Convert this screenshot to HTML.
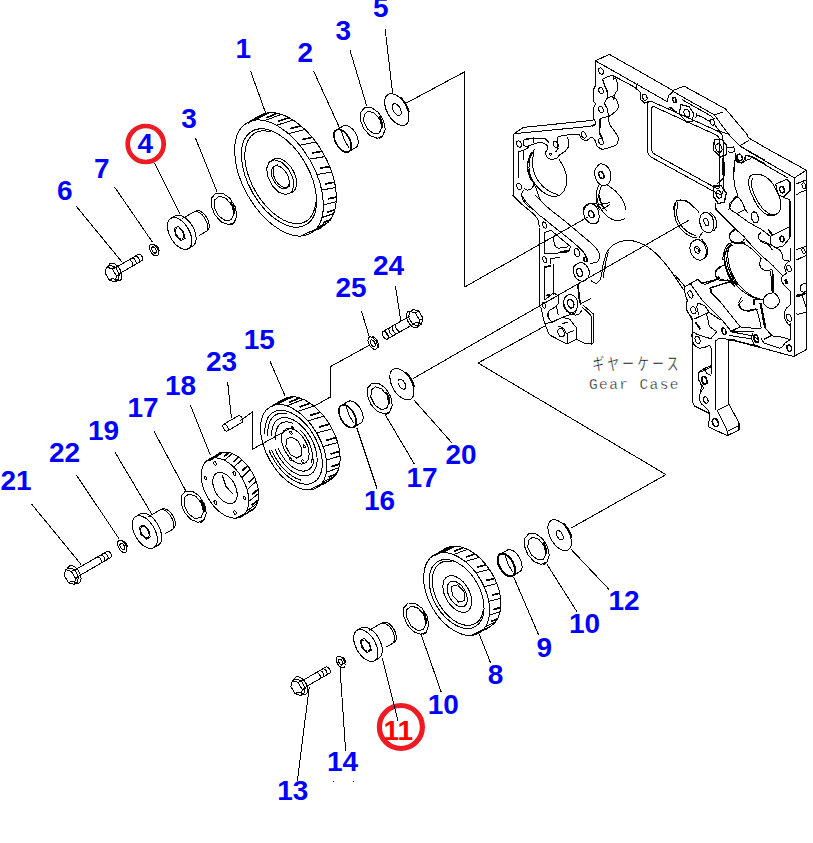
<!DOCTYPE html>
<html lang="ja"><head><meta charset="utf-8"><title>Gear Case</title>
<style>html,body{margin:0;padding:0;background:#fff}svg{display:block}</style></head>
<body>
<svg width="813" height="843" viewBox="0 0 813 843">
<rect width="813" height="843" fill="#fff"/>
<g fill="none" stroke="#000" stroke-width="1" shape-rendering="crispEdges" stroke-linecap="butt" stroke-linejoin="miter">
<line x1="250.4" y1="70.6" x2="265.9" y2="113.7"/>
<line x1="313.7" y1="71.3" x2="340.2" y2="129.2"/>
<line x1="350" y1="50.4" x2="366.8" y2="106.3"/>
<line x1="385.2" y1="29.5" x2="392.6" y2="93.5"/>
<line x1="76.3" y1="206.3" x2="122.3" y2="262.4"/>
<line x1="114.4" y1="186.8" x2="152.6" y2="242.4"/>
<line x1="154.5" y1="163.2" x2="180.3" y2="214.4"/>
<line x1="195.5" y1="138.2" x2="217" y2="191.5"/>
<ellipse cx="396.8" cy="109.6" rx="9.8" ry="17.5" transform="rotate(-30 396.8 109.6)"/>
<ellipse cx="396.8" cy="109.6" rx="3.6" ry="6.5" transform="rotate(-30 396.8 109.6)"/>
<path d="M409.2 112.5 L408.6 110.2 L407.7 107.8 L406.6 105.4 L405.3 103.2 L403.8 101.1 L402.2 99.1 L400.5 97.4" stroke-width="1.5"/>
<path d="M382.8 135.9 L385.2 129.3 L383.5 120.6 L378.4 112.5 L371.4 107.6 L364.8 107.5 L360.7 112.2 L360.4 120.2 L363.9 128.9 L370.2 135.7 L377.3 138.3 Z"/>
<path d="M379.4 133 L381.8 127.5 L379.9 119.6 L374.6 113.2 L368.3 111.1 L364.1 114.5 L363.8 121.6 L367.6 129.2 L373.8 133.7 Z"/>
<path d="M382.4 128 L382.5 126.5 L382.3 124.8 L382 123.1 L381.5 121.4 L380.8 119.7 L379.9 118 L378.8 116.5" stroke-width="1.6"/>
<path d="M379 138.1 L379.7 137.9 L380.4 137.7 L381.1 137.3 L381.7 136.9 L382.3 136.4 L382.8 135.9" stroke-width="1.6"/>
<ellipse cx="342.6" cy="140.7" rx="7" ry="12.5" transform="rotate(-30 342.6 140.7)" stroke-width="1.6"/>
<path d="M355.2 147.8 L356.1 147.3 L356.9 146.6 L357.5 145.7 L357.9 144.6 L358.2 143.4 L358.2 142 L358.1 140.5 L357.9 138.9 L357.4 137.2 L356.8 135.6 L356 134 L355.1 132.4 L354.1 131 L353 129.6 L351.8 128.4 L350.6 127.4 L349.3 126.5 L348.1 125.9 L346.9 125.5 L345.7 125.3 L344.6 125.4 L343.6 125.7 L342.8 126.2"/>
<line x1="348.9" y1="151.5" x2="355.8" y2="147.5"/>
<line x1="336.4" y1="129.9" x2="343.3" y2="125.9"/>
<path d="M341.1 130.7 L344.1 139.4 L348.9 147.6"/>
<ellipse cx="279" cy="178" rx="35.7" ry="63.7" transform="rotate(-30 279 178)"/>
<path d="M319.2 227.6 L323.9 225.6 L328 222.5 L331.3 218.3 L333.8 213.2 L335.5 207.2 L336.3 200.4 L336.2 193.1 L335.2 185.3 L333.3 177.1 L330.6 168.9 L327.1 160.7 L322.9 152.7 L318 145 L312.7 137.9 L306.9 131.4 L300.8 125.7 L294.5 120.9 L288.2 117.2 L282 114.5 L275.9 112.9 L270.2 112.5 L265 113.3 L260.2 115.3 L256.2 118.4"/>
<line x1="309.8" y1="233.8" x2="319.8" y2="227.4"/>
<line x1="316.3" y1="230" x2="323" y2="226.1" stroke-width="1.7"/>
<line x1="317.2" y1="227.5" x2="328.1" y2="222.4"/>
<line x1="323.1" y1="222.8" x2="330.3" y2="219.8" stroke-width="1.7"/>
<line x1="321.8" y1="217.6" x2="333.7" y2="213.6"/>
<line x1="327" y1="212.2" x2="334.9" y2="209.8" stroke-width="1.7"/>
<line x1="323.4" y1="204.8" x2="336.2" y2="201.7"/>
<line x1="327.8" y1="198.9" x2="336.4" y2="197" stroke-width="1.7"/>
<line x1="321.7" y1="190.1" x2="335.6" y2="187.5"/>
<line x1="325.4" y1="183.9" x2="334.6" y2="182.2" stroke-width="1.7"/>
<line x1="316.9" y1="174.5" x2="331.7" y2="172.1"/>
<line x1="319.9" y1="168.2" x2="329.7" y2="166.6" stroke-width="1.7"/>
<line x1="309.3" y1="159.2" x2="325" y2="156.6"/>
<line x1="311.7" y1="153.1" x2="322.1" y2="151.3" stroke-width="1.7"/>
<line x1="299.6" y1="145.2" x2="315.9" y2="142"/>
<line x1="301.6" y1="139.6" x2="312.3" y2="137.4" stroke-width="1.7"/>
<line x1="288.3" y1="133.6" x2="305.1" y2="129.6"/>
<line x1="290.1" y1="128.7" x2="301" y2="125.9" stroke-width="1.7"/>
<line x1="276.4" y1="125.3" x2="293.2" y2="120.1"/>
<line x1="278.1" y1="121.2" x2="289.1" y2="117.6" stroke-width="1.7"/>
<line x1="264.6" y1="120.7" x2="281.4" y2="114.3"/>
<line x1="266.5" y1="117.7" x2="277.3" y2="113.2" stroke-width="1.7"/>
<line x1="253.9" y1="120.4" x2="270.2" y2="112.5"/>
<line x1="256.2" y1="118.3" x2="266.7" y2="112.9" stroke-width="1.7"/>
<line x1="245.1" y1="124.2" x2="260.7" y2="115"/>
<line x1="247.9" y1="123.1" x2="257.9" y2="116.9" stroke-width="1.7"/>
<line x1="301.1" y1="235.9" x2="319.2" y2="227.6"/>
<ellipse cx="279" cy="178" rx="30.2" ry="54" transform="rotate(-30 279 178)"/>
<path d="M270.6 131.9 L265.9 130.9 L261.5 130.9 L257.4 131.9 L253.8 133.7 L250.8 136.4 L248.3 139.8 L246.5 144.1 L245.3 148.9 L244.8 154.4 L245 160.3 L245.9 166.5 L247.5 173 L249.8 179.5 L252.6 186 L256 192.3 L259.9 198.3 L264.2 203.9 L268.8 209 L273.6 213.4 L278.5 217.1 L283.5 220.1 L288.5 222.2 L293.2 223.4 L297.8 223.7 L301.9 223 L305.7 221.5 L308.9 219.1 L311.6 215.9 L313.6 211.9 L315 207.2 L315.7 201.9"/>
<path d="M291.4 192.4 L293.9 186.1 L292.8 177.5 L288.4 168.7 L281.8 162.3 L274.7 159.8 L269.2 162 L266.7 168.3 L267.8 176.9 L272.2 185.7 L278.8 192.1 L285.9 194.6 Z"/>
<path d="M288.4 193.1 L290.2 193 L291.7 192.5 L293.1 191.7 L294.3 190.5 L295.3 189.1 L296 187.4 L296.4 185.4 L296.6 183.3 L296.5 181 L296.1 178.5 L295.5 176.1 L294.6 173.6 L293.4 171.2 L292.1 168.8 L290.5 166.6 L288.8 164.6 L287 162.8 L285.1 161.3 L283.2 160.1 L281.3 159.1 L279.3 158.5 L277.5 158.3 L275.8 158.4 L274.2 158.9 L272.8 159.6 L271.6 160.8 L270.6 162.2"/>
<ellipse cx="280.3" cy="177.2" rx="7.5" ry="12.5" transform="rotate(-30 280.3 177.2)"/>
<path d="M278.4 164.7 L277.2 164.8 L276.2 165.2 L275.3 165.7 L274.5 166.5 L273.9 167.4 L273.4 168.5 L273.1 169.8 L273 171.2 L273.1 172.7 L273.3 174.3 L273.8 175.9 L274.4 177.6 L275.1 179.2 L276 180.7 L277 182.2 L278.1 183.5 L279.3 184.7 L280.6 185.7 L281.8 186.5 L283.1 187.1 L284.4 187.5 L285.6 187.7 L286.7 187.6 L287.8 187.3 L288.7 186.8 L289.5 186 L290.1 185.1"/>
<path d="M234.4 222.3 L236.8 215.5 L235.1 206.5 L229.8 198.2 L222.7 193.2 L215.9 193.1 L211.7 197.9 L211.3 206.1 L215 215.1 L221.4 222.1 L228.7 224.7 Z"/>
<path d="M231.3 219.9 L233.9 213.9 L231.8 205.4 L226.1 198.4 L219.3 196.2 L214.7 199.8 L214.4 207.5 L218.5 215.7 L225.2 220.6 Z"/>
<path d="M234.4 214.5 L234.5 212.8 L234.4 211 L234 209.2 L233.4 207.3 L232.7 205.5 L231.7 203.7 L230.6 202" stroke-width="1.6"/>
<path d="M230.5 224.6 L231.2 224.4 L232 224.1 L232.7 223.8 L233.3 223.3 L233.9 222.8 L234.4 222.3" stroke-width="1.6"/>
<ellipse cx="179.6" cy="233.5" rx="9.8" ry="17.5" transform="rotate(-30 179.6 233.5)"/>
<path d="M191.4 246.7 L192.7 246.1 L193.8 245.3 L194.7 244.1 L195.4 242.7 L195.9 241.1 L196.1 239.2 L196.1 237.2 L195.8 235.1 L195.3 232.8 L194.5 230.6 L193.6 228.3 L192.4 226.1 L191.1 224 L189.6 222 L188 220.3 L186.4 218.7 L184.6 217.4 L182.9 216.3 L181.2 215.6 L179.5 215.2 L178 215.1 L176.5 215.3 L175.2 215.8 L174.1 216.7"/>
<line x1="188.3" y1="248.7" x2="192.7" y2="246.2"/>
<line x1="170.8" y1="218.3" x2="175.2" y2="215.8"/>
<path d="M185 238.4 L183.5 231.3 L178.1 226.4 L174.2 228.6 L175.7 235.7 L181.1 240.6 Z"/>
<ellipse cx="179.6" cy="233.5" rx="3.4" ry="6" transform="rotate(-30 179.6 233.5)"/>
<path d="M205.9 231.4 L206.8 231.1 L207.6 230.6 L208.2 229.9 L208.7 229 L209 228 L209.2 226.9 L209.3 225.6 L209.1 224.2 L208.9 222.8 L208.5 221.4 L207.9 219.9 L207.2 218.5 L206.4 217.1 L205.5 215.8 L204.5 214.6 L203.5 213.5 L202.4 212.5 L201.3 211.8 L200.2 211.2 L199.1 210.8 L198 210.6 L197 210.6 L196.1 210.8 L195.3 211.2 L194.6 211.8"/>
<line x1="199.2" y1="235.5" x2="207" y2="231"/>
<line x1="182.5" y1="218.5" x2="195.5" y2="211"/>
<path d="M206.8 230.3 L207.2 229.2 L207.5 228.1 L207.5 226.8 L207.4 225.4 L207.2 223.9 L206.7 222.4 L206.1 220.9 L205.4 219.4 L204.6 217.9 L203.6 216.6 L202.6 215.3 L201.5 214.2 L200.3 213.3 L199.2 212.5 L198 212 L196.9 211.7 L195.8 211.5 L194.8 211.6"/>
<ellipse cx="154" cy="250" rx="3.7" ry="6.6" transform="rotate(-30 154 250)"/>
<ellipse cx="154" cy="250" rx="1.9" ry="3.4" transform="rotate(-30 154 250)"/>
<path d="M159.1 250.9 L158.9 250 L158.5 249.1 L158.1 248.2 L157.6 247.3 L157.1 246.5 L156.5 245.8 L155.8 245.1" stroke-width="1.5"/>
<path d="M115 281.9 L116.5 276.1 L112.2 268.8 L106.5 267.1 L105.1 272.9 L109.4 280.2 Z"/>
<path d="M112.4 278.5 L118.1 280.1 L119.5 274.4 L115.3 267 L109.6 265.4"/>
<line x1="115" y1="281.9" x2="118.1" y2="280.1"/>
<line x1="116.5" y1="276.1" x2="119.5" y2="274.4"/>
<line x1="112.2" y1="268.8" x2="115.3" y2="267"/>
<line x1="106.5" y1="267.1" x2="109.6" y2="265.4"/>
<line x1="109.4" y1="280.2" x2="112.4" y2="278.5"/>
<path d="M117 280.7 L117.9 280.9 L118.7 280.9 L119.5 280.7 L120.2 280.4 L120.8 279.9 L121.2 279.2 L121.6 278.4 L121.8 277.5 L121.9 276.5 L121.9 275.3 L121.7 274.2 L121.4 272.9 L121 271.7 L120.5 270.5 L119.9 269.3 L119.1 268.1 L118.3 267 L117.5 266.1 L116.6 265.2 L115.6 264.5 L114.7 263.9 L113.7 263.5 L112.8 263.2 L111.9 263.1 L111.1 263.2 L110.4 263.4 L109.8 263.9 L109.2 264.4 L108.8 265.2 L108.5 266"/>
<line x1="117.8" y1="274.6" x2="142" y2="260.6"/>
<line x1="114.2" y1="268.4" x2="138.4" y2="254.4"/>
<path d="M141.7 260.7 L142 260.7 L142.2 260.5 L142.4 260.3 L142.6 260 L142.7 259.7 L142.7 259.3 L142.8 258.9 L142.7 258.5 L142.6 258.1 L142.5 257.6 L142.3 257.2 L142.1 256.7 L141.9 256.3 L141.6 255.9 L141.3 255.5 L140.9 255.1 L140.6 254.9 L140.3 254.6 L139.9 254.4 L139.6 254.3 L139.2 254.2 L138.9 254.2 L138.6 254.3 L138.4 254.4 L138.2 254.6"/>
<path d="M138.8 262.5 L139 262.3 L139.2 262.1 L139.3 261.8 L139.4 261.5 L139.5 261.1 L139.5 260.7 L139.4 260.2 L139.3 259.8 L139.1 259.3 L138.9 258.8 L138.7 258.4 L138.4 258 L138.1 257.6 L137.8 257.2 L137.4 256.9 L137.1 256.6 L136.7 256.4 L136.4 256.2 L136 256.1 L135.7 256.1 L135.4 256.2 L135.2 256.3"/>
<path d="M135.5 264.4 L135.7 264.2 L135.9 264 L136 263.7 L136.1 263.4 L136.2 263 L136.2 262.6 L136.1 262.1 L136 261.7 L135.8 261.2 L135.6 260.7 L135.4 260.3 L135.1 259.9 L134.8 259.5 L134.5 259.1 L134.2 258.8 L133.8 258.5 L133.4 258.3 L133.1 258.1 L132.8 258 L132.4 258 L132.1 258.1 L131.9 258.2"/>
<path d="M132.2 266.3 L132.4 266.1 L132.6 265.9 L132.7 265.6 L132.8 265.3 L132.9 264.9 L132.9 264.5 L132.8 264 L132.7 263.6 L132.6 263.1 L132.4 262.6 L132.1 262.2 L131.8 261.8 L131.5 261.4 L131.2 261 L130.9 260.7 L130.5 260.4 L130.2 260.2 L129.8 260 L129.5 259.9 L129.1 259.9 L128.8 260 L128.6 260.1"/>
<path d="M406.6 102.9 L464.7 71.8 L464.7 287"/>
<line x1="361.3" y1="310.6" x2="369.7" y2="338.2"/>
<line x1="395.4" y1="286" x2="400.8" y2="320.6"/>
<line x1="270" y1="361.2" x2="285" y2="395.8"/>
<line x1="227.6" y1="381.5" x2="231.4" y2="418"/>
<line x1="356.7" y1="427.5" x2="377" y2="488.4"/>
<line x1="385.1" y1="414.5" x2="414.3" y2="464"/>
<line x1="414.3" y1="400.4" x2="452" y2="443"/>
<line x1="31.7" y1="504.2" x2="81.2" y2="564.6"/>
<line x1="76.6" y1="475.3" x2="119.1" y2="538.9"/>
<line x1="115" y1="452.2" x2="151.6" y2="514"/>
<line x1="153.7" y1="430.6" x2="185.4" y2="490.1"/>
<line x1="190.3" y1="404.9" x2="210.3" y2="455"/>
<ellipse cx="401.9" cy="384.2" rx="9.7" ry="17.3" transform="rotate(-30 401.9 384.2)"/>
<ellipse cx="401.9" cy="384.2" rx="3.1" ry="5.5" transform="rotate(-30 401.9 384.2)"/>
<path d="M414.2 387.1 L413.6 384.8 L412.7 382.4 L411.6 380.1 L410.3 377.8 L408.8 375.7 L407.2 373.8 L405.5 372.1" stroke-width="1.5"/>
<path d="M389.9 411.6 L392.3 405 L390.6 396.3 L385.5 388.2 L378.5 383.3 L371.9 383.2 L367.8 387.9 L367.5 395.9 L371 404.6 L377.3 411.4 L384.4 414 Z"/>
<path d="M386.5 408.7 L388.9 403.2 L387 395.3 L381.7 388.9 L375.4 386.8 L371.2 390.2 L370.9 397.3 L374.7 404.9 L380.9 409.4 Z"/>
<path d="M389.5 403.7 L389.6 402.2 L389.4 400.5 L389.1 398.8 L388.6 397.1 L387.9 395.4 L387 393.7 L385.9 392.2" stroke-width="1.6"/>
<path d="M386.1 413.8 L386.8 413.6 L387.5 413.4 L388.2 413 L388.8 412.6 L389.4 412.1 L389.9 411.6" stroke-width="1.6"/>
<ellipse cx="347.5" cy="416.3" rx="7" ry="12.5" transform="rotate(-30 347.5 416.3)" stroke-width="1.6"/>
<path d="M360.1 423.4 L361 422.9 L361.8 422.2 L362.4 421.3 L362.8 420.2 L363.1 419 L363.1 417.6 L363 416.1 L362.8 414.5 L362.3 412.8 L361.7 411.2 L360.9 409.6 L360 408 L359 406.6 L357.9 405.2 L356.7 404 L355.5 403 L354.2 402.1 L353 401.5 L351.8 401.1 L350.6 400.9 L349.5 401 L348.5 401.3 L347.7 401.8"/>
<line x1="353.8" y1="427.1" x2="360.7" y2="423.1"/>
<line x1="341.2" y1="405.5" x2="348.2" y2="401.5"/>
<path d="M346 406.3 L349 415.1 L353.8 423.2"/>
<ellipse cx="293.6" cy="447.2" rx="27.1" ry="46.7" transform="rotate(-30 293.6 447.2)"/>
<path d="M326.9 481.4 L330.4 479.9 L333.5 477.5 L336.1 474.4 L338 470.6 L339.4 466.1 L340 461.1 L340 455.6 L339.4 449.9 L338.1 443.9 L336.1 437.8 L333.6 431.8 L330.5 425.9 L326.9 420.3 L323 415.1 L318.7 410.4 L314.2 406.2 L309.5 402.8 L304.8 400 L300.1 398.1 L295.6 397 L291.3 396.8 L287.3 397.5 L283.7 399 L280.6 401.3"/>
<line x1="316.1" y1="488.1" x2="327.3" y2="481.2"/>
<line x1="322.8" y1="484.2" x2="330.2" y2="480" stroke-width="1.7"/>
<line x1="322.7" y1="482.1" x2="334.6" y2="476.3"/>
<line x1="328.6" y1="477.2" x2="336.5" y2="473.7" stroke-width="1.7"/>
<line x1="326.2" y1="472.4" x2="339" y2="467.6"/>
<line x1="331.3" y1="466.8" x2="339.8" y2="463.8" stroke-width="1.7"/>
<line x1="326.3" y1="460.2" x2="340.1" y2="455.9"/>
<line x1="330.5" y1="454" x2="339.6" y2="451.3" stroke-width="1.7"/>
<line x1="323" y1="446.5" x2="337.7" y2="442.5"/>
<line x1="326.4" y1="440.3" x2="336" y2="437.6" stroke-width="1.7"/>
<line x1="316.6" y1="433" x2="332.1" y2="428.8"/>
<line x1="319.3" y1="427" x2="329.4" y2="424.1" stroke-width="1.7"/>
<line x1="307.9" y1="420.9" x2="323.8" y2="416.1"/>
<line x1="310" y1="415.5" x2="320.5" y2="412.2" stroke-width="1.7"/>
<line x1="297.6" y1="411.5" x2="313.9" y2="406"/>
<line x1="299.6" y1="407" x2="310.2" y2="403.2" stroke-width="1.7"/>
<line x1="286.9" y1="405.9" x2="303.2" y2="399.3"/>
<line x1="288.9" y1="402.5" x2="299.5" y2="397.9" stroke-width="1.7"/>
<line x1="276.9" y1="404.6" x2="292.9" y2="396.8"/>
<line x1="279.3" y1="402.3" x2="289.6" y2="397" stroke-width="1.7"/>
<line x1="268.7" y1="407.8" x2="284.1" y2="398.8"/>
<line x1="271.6" y1="406.6" x2="281.5" y2="400.5" stroke-width="1.7"/>
<line x1="309.6" y1="489.8" x2="326.9" y2="481.4"/>
<path d="M269 450.1 L271.3 455.3 L274.1 460.3 L277.3 465.1 L280.8 469.5 L284.5 473.5 L288.5 476.9 L292.5 479.7 L296.6 481.9 L300.6 483.4 L304.5 484.1 L308.2 484.1 L311.5 483.3 L314.5 481.9 L317.1 479.7 L319.2 476.9 L320.8 473.4 L321.8 469.5 L322.3 465 L322.2 460.3 L321.5 455.2 L320.2 450 L318.4 444.8 L316.1 439.6 L313.4 434.5 L310.3 429.7 L306.8 425.3 L303 421.3 L299.1 417.8 L295 414.9 L291 412.7 L286.9 411.2 L283.1 410.3 L279.4 410.3 L276 411 L273 412.4 L270.3 414.5 L268.2 417.2 L266.6 420.6 L265.5 424.5 L264.9 428.9 L265 433.7"/>
<path d="M287.3 413.8 L283.8 413.2 L280.4 413.3 L277.4 414 L274.6 415.5 L272.3 417.5 L270.5 420.2 L269.1 423.4 L268.2 427.1 L267.8 431.2 L268 435.7"/>
<path d="M271.5 449.6 L273.7 454.4 L276.3 459 L279.2 463.4 L282.4 467.5 L285.9 471.1 L289.6 474.2 L293.3 476.8 L297.1 478.8 L300.8 480.1"/>
<path d="M275 449 L276.8 453.1 L279 457.1 L281.6 460.8 L284.3 464.3 L287.3 467.5 L290.4 470.2 L293.6 472.4 L296.9 474.1 L300 475.3 L303.1 475.9 L306 475.8 L308.6 475.3 L311 474.1 L313 472.4 L314.7 470.1 L315.9 467.4 L316.8 464.3 L317.1 460.8 L317 457 L316.5 453.1 L315.5 448.9 L314.1 444.8 L312.3 440.7 L310.1 436.7 L307.6 432.9 L304.9 429.4 L301.9 426.2 L298.8 423.5 L295.6 421.2 L292.4 419.4 L289.2 418.2 L286.1 417.6 L283.2 417.5 L280.6 418.1 L278.2 419.2 L276.1 420.8 L274.4 423 L273.1 425.7 L272.2 428.8 L271.8 432.2 L271.9 436"/>
<path d="M293.3 423.5 L290.4 422.4 L287.7 421.9 L285.1 421.9 L282.7 422.4 L280.7 423.5 L278.9 425.2 L277.5 427.3 L276.5 429.8 L275.9 432.7 L275.8 436 L276 439.5"/>
<path d="M278.3 448 L279.8 451.4 L281.6 454.7 L283.7 457.9 L285.9 460.9 L288.4 463.5 L291 465.8 L293.7 467.8 L296.3 469.3 L299 470.4 L301.6 471 L304 471.1 L306.3 470.7 L308.3 469.9 L310.1 468.6 L311.6 466.8 L312.7 464.7 L313.5 462.1 L314 459.3"/>
<path d="M310.7 463.4 L311.6 461.2 L312.2 458.7 L312.3 456 L312.2 453 L311.6 449.9 L310.8 446.8 L309.6 443.6 L308.1 440.5 L306.3 437.5 L304.3 434.6 L302.1 432.1 L299.8 429.8"/>
<ellipse cx="295.3" cy="446.2" rx="11.3" ry="19.5" transform="rotate(-30 295.3 446.2)"/>
<ellipse cx="291" cy="432.6" rx="1" ry="1.6" transform="rotate(-30 291 432.6)"/>
<ellipse cx="304.3" cy="446.4" rx="1" ry="1.6" transform="rotate(-30 304.3 446.4)"/>
<ellipse cx="302.9" cy="461.3" rx="1" ry="1.6" transform="rotate(-30 302.9 461.3)"/>
<ellipse cx="290.6" cy="458.9" rx="1" ry="1.6" transform="rotate(-30 290.6 458.9)"/>
<ellipse cx="292.3" cy="427.7" rx="0.8" ry="1.5" transform="rotate(-30 292.3 427.7)" fill="#000"/>
<path d="M301.4 455.6 L301.9 448.5 L297.7 440.7 L291.3 437 L286.4 439.4 L285.9 446.5 L290.1 454.3 L296.5 458 Z"/>
<ellipse cx="225" cy="488" rx="19.8" ry="33" transform="rotate(-30 225 488)"/>
<path d="M248.9 511.9 L251.5 510.8 L253.8 509.1 L255.6 506.8 L257.1 504.1 L258.1 500.9 L258.7 497.3 L258.7 493.4 L258.3 489.3 L257.4 485.1 L256.1 480.8 L254.3 476.5 L252.1 472.4 L249.6 468.4 L246.8 464.7 L243.7 461.4 L240.5 458.5 L237.1 456.1 L233.8 454.2 L230.4 452.9 L227.1 452.1 L224 452 L221.1 452.5 L218.5 453.6 L216.2 455.3"/>
<line x1="240.9" y1="516.9" x2="252.3" y2="510.3"/>
<line x1="247.2" y1="512.9" x2="254.5" y2="508.4" stroke-width="1.7"/>
<line x1="246.6" y1="511" x2="257.3" y2="503.5"/>
<line x1="251.5" y1="505.3" x2="258.3" y2="500.2" stroke-width="1.7"/>
<line x1="248.8" y1="501.4" x2="258.7" y2="493.3"/>
<line x1="252" y1="494.6" x2="258.3" y2="489.2" stroke-width="1.7"/>
<line x1="247.1" y1="489.7" x2="256.2" y2="481.3"/>
<line x1="248.8" y1="482.4" x2="254.5" y2="477" stroke-width="1.7"/>
<line x1="241.9" y1="477.6" x2="250.3" y2="469.4"/>
<line x1="242.2" y1="470.9" x2="247.6" y2="465.7" stroke-width="1.7"/>
<line x1="233.9" y1="467.2" x2="241.9" y2="459.6"/>
<line x1="233.4" y1="461.8" x2="238.6" y2="457" stroke-width="1.7"/>
<line x1="224.4" y1="460.2" x2="232.3" y2="453.6"/>
<line x1="223.8" y1="456.6" x2="229" y2="452.5" stroke-width="1.7"/>
<line x1="215.1" y1="457.8" x2="223.2" y2="452.1"/>
<line x1="215" y1="456.2" x2="220.4" y2="452.8" stroke-width="1.7"/>
<line x1="207.3" y1="460.2" x2="216" y2="455.6"/>
<line x1="208.4" y1="460.6" x2="214.1" y2="457.9" stroke-width="1.7"/>
<line x1="236.1" y1="518.2" x2="248.9" y2="511.9"/>
<ellipse cx="225" cy="488" rx="10.2" ry="17" transform="rotate(-30 225 488)"/>
<path d="M222.2 475 L226 486.5 L233.2 494.3"/>
<ellipse cx="244.5" cy="498" rx="1.2" ry="2" transform="rotate(-30 244.5 498)"/>
<ellipse cx="234.5" cy="473.4" rx="1.2" ry="2" transform="rotate(-30 234.5 473.4)"/>
<ellipse cx="215" cy="463.4" rx="1.2" ry="2" transform="rotate(-30 215 463.4)"/>
<ellipse cx="205.5" cy="478" rx="1.2" ry="2" transform="rotate(-30 205.5 478)"/>
<ellipse cx="215.5" cy="502.6" rx="1.2" ry="2" transform="rotate(-30 215.5 502.6)"/>
<ellipse cx="235" cy="512.6" rx="1.2" ry="2" transform="rotate(-30 235 512.6)"/>
<path d="M203.9 519.9 L206.3 513.2 L204.6 504.3 L199.4 496.1 L192.3 491.2 L185.6 491 L181.4 495.8 L181.1 503.9 L184.7 512.8 L191.1 519.7 L198.2 522.3 Z"/>
<path d="M200.9 517.7 L203.5 511.7 L201.4 503.2 L195.7 496.2 L188.9 494 L184.3 497.6 L184 505.3 L188.1 513.5 L194.8 518.4 Z"/>
<path d="M204 512.3 L204.1 510.6 L204 508.8 L203.6 507 L203 505.1 L202.3 503.3 L201.3 501.5 L200.2 499.8" stroke-width="1.6"/>
<path d="M200 522.2 L200.8 522 L201.5 521.7 L202.2 521.4 L202.8 521 L203.4 520.5 L203.9 519.9" stroke-width="1.6"/>
<ellipse cx="144.8" cy="532.1" rx="10.1" ry="18" transform="rotate(-30 144.8 532.1)"/>
<path d="M156.8 545.7 L158.2 545.2 L159.3 544.3 L160.2 543.1 L161 541.7 L161.4 540 L161.6 538.1 L161.6 536 L161.3 533.8 L160.8 531.5 L160 529.1 L159 526.8 L157.9 524.6 L156.5 522.4 L155 520.4 L153.3 518.5 L151.6 516.9 L149.9 515.6 L148.1 514.5 L146.3 513.8 L144.6 513.3 L143 513.2 L141.5 513.4 L140.2 514 L139 514.9"/>
<line x1="153.8" y1="547.7" x2="158.1" y2="545.2"/>
<line x1="135.8" y1="516.5" x2="140.1" y2="514"/>
<path d="M150.2 537 L148.7 529.9 L143.3 525 L139.4 527.2 L140.9 534.3 L146.3 539.2 Z"/>
<ellipse cx="144.8" cy="532.1" rx="3.4" ry="6" transform="rotate(-30 144.8 532.1)"/>
<path d="M172 529.5 L172.9 529.2 L173.6 528.7 L174.2 528 L174.7 527.1 L175.1 526.1 L175.3 525 L175.3 523.7 L175.2 522.3 L174.9 520.9 L174.5 519.5 L174 518 L173.3 516.6 L172.5 515.2 L171.6 513.9 L170.6 512.7 L169.5 511.6 L168.4 510.6 L167.3 509.9 L166.2 509.3 L165.1 508.9 L164.1 508.7 L163.1 508.7 L162.2 508.9 L161.4 509.3 L160.7 509.9"/>
<line x1="164.9" y1="533.8" x2="173.1" y2="529.1"/>
<line x1="147.9" y1="517" x2="161.6" y2="509.1"/>
<path d="M172.9 528.4 L173.3 527.3 L173.5 526.2 L173.6 524.9 L173.5 523.5 L173.2 522 L172.8 520.5 L172.2 519 L171.5 517.5 L170.6 516 L169.7 514.7 L168.6 513.4 L167.5 512.3 L166.4 511.4 L165.2 510.6 L164.1 510.1 L162.9 509.8 L161.9 509.6 L160.9 509.7"/>
<ellipse cx="122.3" cy="546.4" rx="3.8" ry="6.8" transform="rotate(-30 122.3 546.4)"/>
<ellipse cx="122.3" cy="546.4" rx="1.9" ry="3.4" transform="rotate(-30 122.3 546.4)"/>
<path d="M127.5 547.3 L127.3 546.4 L127 545.5 L126.5 544.5 L126 543.7 L125.5 542.8 L124.8 542.1 L124.1 541.4" stroke-width="1.5"/>
<path d="M74.2 584.4 L75.6 578.6 L71.3 571.3 L65.7 569.6 L64.2 575.4 L68.5 582.7 Z"/>
<path d="M71.5 581 L77.2 582.6 L78.6 576.9 L74.4 569.5 L68.7 567.9"/>
<line x1="74.2" y1="584.4" x2="77.2" y2="582.6"/>
<line x1="75.6" y1="578.6" x2="78.6" y2="576.9"/>
<line x1="71.3" y1="571.3" x2="74.4" y2="569.5"/>
<line x1="65.7" y1="569.6" x2="68.7" y2="567.9"/>
<line x1="68.5" y1="582.7" x2="71.5" y2="581"/>
<path d="M76.1 583.2 L77 583.4 L77.8 583.4 L78.6 583.2 L79.3 582.9 L79.9 582.4 L80.3 581.7 L80.7 580.9 L80.9 580 L81 579 L81 577.8 L80.8 576.7 L80.5 575.4 L80.1 574.2 L79.6 573 L79 571.8 L78.2 570.6 L77.4 569.5 L76.6 568.6 L75.7 567.7 L74.7 567 L73.8 566.4 L72.8 566 L71.9 565.7 L71 565.6 L70.2 565.7 L69.5 565.9 L68.9 566.4 L68.3 566.9 L67.9 567.7 L67.6 568.5"/>
<line x1="76.9" y1="577.1" x2="110.7" y2="557.6"/>
<line x1="73.3" y1="570.9" x2="107.1" y2="551.4"/>
<path d="M110.3 557.7 L110.6 557.7 L110.8 557.5 L111 557.3 L111.2 557 L111.3 556.7 L111.4 556.3 L111.4 555.9 L111.3 555.5 L111.3 555.1 L111.1 554.6 L111 554.2 L110.7 553.7 L110.5 553.3 L110.2 552.9 L109.9 552.5 L109.6 552.1 L109.2 551.9 L108.9 551.6 L108.5 551.4 L108.2 551.3 L107.9 551.2 L107.5 551.2 L107.3 551.3 L107 551.4 L106.8 551.6"/>
<path d="M107.4 559.5 L107.6 559.3 L107.8 559.1 L107.9 558.8 L108 558.5 L108.1 558.1 L108.1 557.7 L108 557.2 L107.9 556.8 L107.8 556.3 L107.6 555.8 L107.3 555.4 L107.1 555 L106.7 554.6 L106.4 554.2 L106.1 553.9 L105.7 553.6 L105.4 553.4 L105 553.2 L104.7 553.1 L104.3 553.1 L104 553.2 L103.8 553.3"/>
<path d="M104.1 561.4 L104.3 561.2 L104.5 561 L104.7 560.7 L104.7 560.4 L104.8 560 L104.8 559.6 L104.7 559.1 L104.6 558.7 L104.5 558.2 L104.3 557.7 L104 557.3 L103.8 556.9 L103.5 556.5 L103.1 556.1 L102.8 555.8 L102.4 555.5 L102.1 555.3 L101.7 555.1 L101.4 555 L101.1 555 L100.8 555.1 L100.5 555.2"/>
<path d="M100.8 563.3 L101 563.1 L101.2 562.9 L101.4 562.6 L101.5 562.3 L101.5 561.9 L101.5 561.5 L101.4 561 L101.3 560.6 L101.2 560.1 L101 559.6 L100.7 559.2 L100.5 558.8 L100.2 558.4 L99.8 558 L99.5 557.7 L99.1 557.4 L98.8 557.2 L98.4 557 L98.1 556.9 L97.8 556.9 L97.5 557 L97.2 557.1"/>
<path d="M418.1 325.9 L419.6 320.3 L415.4 313.1 L409.9 311.5 L408.4 317.1 L412.6 324.3 Z"/>
<path d="M416.1 322.3 L421.6 323.9 L423 318.3 L418.9 311.1 L413.3 309.5"/>
<line x1="418.1" y1="325.9" x2="421.6" y2="323.9"/>
<line x1="419.6" y1="320.3" x2="423" y2="318.3"/>
<line x1="415.4" y1="313.1" x2="418.9" y2="311.1"/>
<line x1="409.9" y1="311.5" x2="413.3" y2="309.5"/>
<line x1="412.6" y1="324.3" x2="416.1" y2="322.3"/>
<path d="M411 311.3 L410.1 311.2 L409.3 311.2 L408.6 311.3 L408 311.6 L407.4 312.1 L407 312.7 L406.7 313.5 L406.4 314.3 L406.3 315.3 L406.4 316.3 L406.5 317.4 L406.8 318.6 L407.2 319.7 L407.7 320.9 L408.3 322 L409 323.1 L409.7 324.1 L410.5 325 L411.4 325.8 L412.2 326.5 L413.1 327 L414 327.4 L414.9 327.7 L415.7 327.8 L416.4 327.7 L417.1 327.4 L417.7 327 L418.2 326.5 L418.6 325.8 L418.9 325"/>
<line x1="414.5" y1="323.5" x2="387.6" y2="339"/>
<line x1="410.1" y1="315.9" x2="383.2" y2="331.4"/>
<ellipse cx="385.4" cy="335.2" rx="2.5" ry="4.4" transform="rotate(-30 385.4 335.2)"/>
<path d="M386.5 329.5 L386.2 329.7 L386 330 L385.8 330.3 L385.7 330.8 L385.7 331.2 L385.7 331.7 L385.7 332.3 L385.9 332.8 L386 333.4 L386.3 334 L386.6 334.5 L386.9 335.1 L387.3 335.6 L387.7 336 L388.1 336.4 L388.5 336.7 L389 337 L389.4 337.2 L389.8 337.3 L390.2 337.3 L390.6 337.2 L390.9 337.1"/>
<path d="M389.8 327.6 L389.5 327.8 L389.3 328.1 L389.1 328.4 L389 328.9 L388.9 329.3 L388.9 329.8 L389 330.4 L389.1 330.9 L389.3 331.5 L389.6 332.1 L389.9 332.6 L390.2 333.2 L390.6 333.7 L391 334.1 L391.4 334.5 L391.8 334.8 L392.3 335.1 L392.7 335.3 L393.1 335.4 L393.5 335.4 L393.9 335.3 L394.2 335.2"/>
<path d="M393.1 325.7 L392.8 325.9 L392.6 326.2 L392.4 326.5 L392.3 327 L392.2 327.4 L392.2 327.9 L392.3 328.5 L392.4 329 L392.6 329.6 L392.9 330.2 L393.2 330.7 L393.5 331.3 L393.9 331.8 L394.3 332.2 L394.7 332.6 L395.1 332.9 L395.6 333.2 L396 333.4 L396.4 333.5 L396.8 333.5 L397.2 333.4 L397.5 333.3"/>
<path d="M396.4 323.8 L396.1 324 L395.9 324.3 L395.7 324.6 L395.6 325.1 L395.5 325.5 L395.5 326 L395.6 326.6 L395.7 327.1 L395.9 327.7 L396.2 328.3 L396.5 328.8 L396.8 329.4 L397.2 329.9 L397.6 330.3 L398 330.7 L398.4 331 L398.8 331.3 L399.3 331.5 L399.7 331.6 L400.1 331.6 L400.5 331.5 L400.8 331.4"/>
<ellipse cx="372.7" cy="343.2" rx="3.8" ry="6.8" transform="rotate(-30 372.7 343.2)"/>
<ellipse cx="372.7" cy="343.2" rx="2" ry="3.6" transform="rotate(-30 372.7 343.2)"/>
<path d="M378.1 347.5 L378.3 346.9 L378.4 346.2 L378.5 345.4 L378.4 344.6 L378.3 343.8 L378 342.9 L377.7 342 L377.3 341.1 L376.8 340.3 L376.2 339.5 L375.6 338.7 L375 338.1 L374.3 337.5 L373.6 337.1 L373 336.7 L372.3 336.5 L371.7 336.4"/>
<ellipse cx="225.5" cy="427.6" rx="2.1" ry="3.8" transform="rotate(-30 225.5 427.6)"/>
<line x1="227.4" y1="430.9" x2="242.1" y2="422.4"/>
<line x1="223.6" y1="424.3" x2="238.3" y2="415.8"/>
<path d="M242.1 422.4 L242.4 422.2 L242.6 422 L242.7 421.7 L242.8 421.3 L242.9 420.9 L242.9 420.5 L242.8 420 L242.7 419.5 L242.5 419 L242.3 418.5 L242.1 418 L241.8 417.6 L241.5 417.2 L241.1 416.8 L240.7 416.4 L240.4 416.1 L240 415.9 L239.6 415.8 L239.3 415.7 L238.9 415.6 L238.6 415.7 L238.3 415.8"/>
<path d="M369.7 345 L330.4 366.6 L330.4 397 L313.4 406.7"/>
<path d="M240.3 420.7 L252.5 411.8 L252.5 449.2 L291.7 427.5"/>
<line x1="479.3" y1="634.5" x2="490.7" y2="663.2"/>
<line x1="513.7" y1="577.1" x2="538.8" y2="635.3"/>
<line x1="547" y1="564.4" x2="577.3" y2="612.3"/>
<line x1="570.5" y1="548.7" x2="608.9" y2="589.3"/>
<line x1="309.2" y1="687.3" x2="297.4" y2="780.8"/>
<line x1="340" y1="667.7" x2="345.6" y2="750.6"/>
<line x1="421.1" y1="634.4" x2="441.3" y2="692.3"/>
<ellipse cx="559.7" cy="535.2" rx="9.5" ry="17" transform="rotate(-30 559.7 535.2)"/>
<ellipse cx="559.7" cy="535.2" rx="2.8" ry="5" transform="rotate(-30 559.7 535.2)"/>
<path d="M571.8 538 L571.2 535.7 L570.3 533.4 L569.2 531.2 L568 529 L566.5 526.9 L565 525 L563.3 523.3" stroke-width="1.5"/>
<path d="M546.9 562 L549.3 555.4 L547.6 546.7 L542.5 538.6 L535.5 533.7 L528.9 533.6 L524.8 538.3 L524.5 546.3 L528 555 L534.3 561.8 L541.4 564.4 Z"/>
<path d="M543.5 559.1 L545.9 553.6 L544 545.7 L538.7 539.3 L532.4 537.2 L528.2 540.6 L527.9 547.7 L531.7 555.3 L537.9 559.8 Z"/>
<path d="M546.5 554.1 L546.6 552.6 L546.4 550.9 L546.1 549.2 L545.6 547.5 L544.9 545.8 L544 544.1 L542.9 542.6" stroke-width="1.6"/>
<path d="M543.1 564.2 L543.8 564 L544.5 563.8 L545.2 563.4 L545.8 563 L546.4 562.5 L546.9 562" stroke-width="1.6"/>
<ellipse cx="506.4" cy="565" rx="7" ry="12.5" transform="rotate(-30 506.4 565)" stroke-width="2"/>
<path d="M519 572.1 L519.9 571.6 L520.7 570.9 L521.3 570 L521.7 568.9 L522 567.7 L522 566.3 L521.9 564.8 L521.7 563.2 L521.2 561.5 L520.6 559.9 L519.8 558.3 L518.9 556.7 L517.9 555.3 L516.8 553.9 L515.6 552.7 L514.4 551.7 L513.1 550.8 L511.9 550.2 L510.7 549.8 L509.5 549.6 L508.4 549.7 L507.4 550 L506.6 550.5"/>
<line x1="512.6" y1="575.8" x2="519.6" y2="571.8"/>
<line x1="500.1" y1="554.2" x2="507.1" y2="550.2"/>
<path d="M504.9 555 L507.9 563.8 L512.6 571.9"/>
<ellipse cx="456.6" cy="594" rx="27.9" ry="45" transform="rotate(-30 456.6 594)"/>
<path d="M486.8 628 L490.4 626.4 L493.6 624 L496.3 620.9 L498.4 617.1 L499.9 612.7 L500.7 607.8 L500.9 602.4 L500.3 596.8 L499.2 591 L497.4 585.1 L495 579.2 L492 573.5 L488.6 568.2 L484.7 563.2 L480.5 558.6 L476.1 554.7 L471.4 551.5 L466.7 548.9 L462.1 547.2 L457.5 546.3 L453.1 546.2 L449.1 546.9 L445.4 548.5 L442.2 550.8"/>
<line x1="478.2" y1="633.4" x2="487.2" y2="627.9"/>
<line x1="484.5" y1="629.8" x2="490.5" y2="626.4" stroke-width="1.7"/>
<line x1="485.6" y1="626.5" x2="495.4" y2="622.1"/>
<line x1="491" y1="621.6" x2="497.5" y2="618.9" stroke-width="1.7"/>
<line x1="489.3" y1="615.3" x2="500.1" y2="611.8"/>
<line x1="493.5" y1="609.5" x2="500.7" y2="607.4" stroke-width="1.7"/>
<line x1="488.8" y1="601.4" x2="500.6" y2="598.4"/>
<line x1="491.9" y1="595.2" x2="499.7" y2="593.3" stroke-width="1.7"/>
<line x1="484.1" y1="586.6" x2="496.8" y2="583.6"/>
<line x1="486.2" y1="580.4" x2="494.6" y2="578.5" stroke-width="1.7"/>
<line x1="475.9" y1="572.7" x2="489.4" y2="569.3"/>
<line x1="477.2" y1="567.1" x2="486.1" y2="564.8" stroke-width="1.7"/>
<line x1="465.2" y1="561.5" x2="479.2" y2="557.4"/>
<line x1="466" y1="556.9" x2="475.2" y2="554" stroke-width="1.7"/>
<line x1="453.4" y1="554.6" x2="467.5" y2="549.3"/>
<line x1="454.2" y1="551.3" x2="463.3" y2="547.6" stroke-width="1.7"/>
<line x1="442" y1="552.7" x2="455.9" y2="546.1"/>
<line x1="443.2" y1="550.8" x2="452.1" y2="546.3" stroke-width="1.7"/>
<line x1="432.5" y1="556.1" x2="445.8" y2="548.3"/>
<line x1="434.4" y1="555.6" x2="442.9" y2="550.3" stroke-width="1.7"/>
<line x1="471.6" y1="635.3" x2="486.8" y2="628"/>
<ellipse cx="456.6" cy="594" rx="23.2" ry="37.5" transform="rotate(-30 456.6 594)"/>
<path d="M452.1 561.6 L448.7 561.1 L445.4 561.2 L442.4 562 L439.7 563.4 L437.3 565.4 L435.4 567.9 L433.9 570.9 L432.8 574.4 L432.3 578.3 L432.3 582.4 L432.8 586.8 L433.7 591.3 L435.2 595.8 L437.1 600.3 L439.4 604.6 L442.1 608.7 L445.1 612.5 L448.3 616 L451.8 618.9 L455.3 621.4 L458.9 623.3 L462.5 624.6 L466 625.3 L469.4 625.4 L472.5 624.8 L475.3 623.6 L477.8 621.8 L479.9 619.5 L481.5 616.6 L482.7 613.2 L483.4 609.5"/>
<ellipse cx="457.3" cy="594" rx="12" ry="20" transform="rotate(-30 457.3 594)"/>
<ellipse cx="457.3" cy="594" rx="8.4" ry="14" transform="rotate(-30 457.3 594)"/>
<path d="M464.6 600.6 L464.2 592 L457.7 584.9 L451.7 586.4 L452.2 595 L458.7 602.1 Z"/>
<path d="M426.4 631.9 L428.8 625.2 L427.1 616.3 L421.9 608.1 L414.8 603.2 L408.1 603 L403.9 607.8 L403.6 615.9 L407.2 624.8 L413.6 631.7 L420.7 634.3 Z"/>
<path d="M423.4 629.7 L426 623.7 L423.9 615.2 L418.2 608.2 L411.4 606 L406.8 609.6 L406.5 617.3 L410.6 625.5 L417.3 630.4 Z"/>
<path d="M426.5 624.3 L426.6 622.6 L426.5 620.8 L426.1 619 L425.5 617.1 L424.8 615.3 L423.8 613.5 L422.7 611.8" stroke-width="1.6"/>
<path d="M422.5 634.2 L423.3 634 L424 633.7 L424.6 633.4 L425.3 633 L425.9 632.5 L426.4 631.9" stroke-width="1.6"/>
<ellipse cx="365.8" cy="645.5" rx="9.8" ry="17.5" transform="rotate(-30 365.8 645.5)"/>
<path d="M377.6 658.7 L378.9 658.1 L380 657.3 L380.9 656.1 L381.6 654.7 L382.1 653.1 L382.3 651.2 L382.3 649.2 L382 647.1 L381.5 644.8 L380.7 642.6 L379.8 640.3 L378.6 638.1 L377.3 636 L375.8 634 L374.2 632.3 L372.6 630.7 L370.8 629.4 L369.1 628.3 L367.4 627.6 L365.7 627.2 L364.2 627.1 L362.7 627.3 L361.4 627.8 L360.3 628.7"/>
<line x1="374.6" y1="660.7" x2="378.9" y2="658.2"/>
<line x1="357.1" y1="630.3" x2="361.4" y2="627.8"/>
<path d="M371.2 650.4 L369.7 643.3 L364.3 638.4 L360.4 640.6 L361.9 647.7 L367.3 652.6 Z"/>
<ellipse cx="365.8" cy="645.5" rx="3.4" ry="6" transform="rotate(-30 365.8 645.5)"/>
<path d="M393 642.9 L393.9 642.6 L394.6 642.1 L395.2 641.4 L395.7 640.5 L396.1 639.5 L396.3 638.4 L396.3 637.1 L396.2 635.7 L395.9 634.3 L395.5 632.9 L395 631.4 L394.3 630 L393.5 628.6 L392.6 627.3 L391.6 626.1 L390.5 625 L389.4 624 L388.3 623.3 L387.2 622.7 L386.1 622.3 L385.1 622.1 L384.1 622.1 L383.2 622.3 L382.4 622.7 L381.7 623.3"/>
<line x1="385.9" y1="647.2" x2="394.1" y2="642.5"/>
<line x1="368.9" y1="630.4" x2="382.6" y2="622.5"/>
<path d="M393.9 641.8 L394.3 640.7 L394.5 639.6 L394.6 638.3 L394.5 636.9 L394.2 635.4 L393.8 633.9 L393.2 632.4 L392.5 630.9 L391.6 629.4 L390.7 628.1 L389.6 626.8 L388.5 625.7 L387.4 624.8 L386.2 624 L385.1 623.5 L383.9 623.2 L382.9 623 L381.9 623.1"/>
<ellipse cx="340.7" cy="662" rx="3.6" ry="6.4" transform="rotate(-30 340.7 662)"/>
<ellipse cx="340.7" cy="662" rx="1.8" ry="3.2" transform="rotate(-30 340.7 662)"/>
<path d="M345.7 662.8 L345.5 662 L345.1 661.1 L344.7 660.2 L344.2 659.4 L343.7 658.6 L343.1 657.9 L342.5 657.3" stroke-width="1.5"/>
<path d="M300.9 695.5 L302.3 689.7 L298 682.4 L292.4 680.7 L290.9 686.5 L295.2 693.8 Z"/>
<path d="M298.2 692.1 L303.9 693.7 L305.3 688 L301.1 680.6 L295.4 679"/>
<line x1="300.9" y1="695.5" x2="303.9" y2="693.7"/>
<line x1="302.3" y1="689.7" x2="305.3" y2="688"/>
<line x1="298" y1="682.4" x2="301.1" y2="680.6"/>
<line x1="292.4" y1="680.7" x2="295.4" y2="679"/>
<line x1="295.2" y1="693.8" x2="298.2" y2="692.1"/>
<path d="M302.8 694.3 L303.7 694.5 L304.5 694.5 L305.3 694.3 L306 694 L306.6 693.5 L307 692.8 L307.4 692 L307.6 691.1 L307.7 690.1 L307.7 688.9 L307.5 687.8 L307.2 686.5 L306.8 685.3 L306.3 684.1 L305.7 682.9 L304.9 681.7 L304.1 680.6 L303.3 679.7 L302.4 678.8 L301.4 678.1 L300.5 677.5 L299.5 677.1 L298.6 676.8 L297.7 676.7 L296.9 676.8 L296.2 677 L295.6 677.5 L295 678 L294.6 678.8 L294.3 679.6"/>
<line x1="303.6" y1="688.2" x2="329.6" y2="673.2"/>
<line x1="300" y1="682" x2="326" y2="667"/>
<path d="M329.2 673.3 L329.5 673.3 L329.7 673.1 L329.9 672.9 L330.1 672.6 L330.2 672.3 L330.3 671.9 L330.3 671.5 L330.2 671.1 L330.2 670.7 L330 670.2 L329.9 669.8 L329.6 669.3 L329.4 668.9 L329.1 668.5 L328.8 668.1 L328.5 667.7 L328.1 667.5 L327.8 667.2 L327.4 667 L327.1 666.9 L326.8 666.8 L326.5 666.8 L326.2 666.9 L325.9 667 L325.7 667.2"/>
<path d="M326.3 675.1 L326.5 674.9 L326.7 674.7 L326.8 674.4 L326.9 674.1 L327 673.7 L327 673.3 L326.9 672.8 L326.8 672.4 L326.7 671.9 L326.5 671.4 L326.2 671 L326 670.6 L325.7 670.2 L325.3 669.8 L325 669.5 L324.6 669.2 L324.3 669 L323.9 668.8 L323.6 668.7 L323.3 668.7 L323 668.8 L322.7 668.9"/>
<path d="M323 677 L323.2 676.8 L323.4 676.6 L323.6 676.3 L323.7 676 L323.7 675.6 L323.7 675.2 L323.6 674.7 L323.5 674.3 L323.4 673.8 L323.2 673.3 L322.9 672.9 L322.7 672.5 L322.4 672.1 L322 671.7 L321.7 671.4 L321.3 671.1 L321 670.9 L320.6 670.7 L320.3 670.6 L320 670.6 L319.7 670.7 L319.4 670.8"/>
<path d="M319.7 678.9 L319.9 678.7 L320.1 678.5 L320.3 678.2 L320.4 677.9 L320.4 677.5 L320.4 677.1 L320.3 676.6 L320.2 676.2 L320.1 675.7 L319.9 675.2 L319.7 674.8 L319.4 674.4 L319.1 674 L318.7 673.6 L318.4 673.3 L318 673 L317.7 672.8 L317.3 672.6 L317 672.5 L316.7 672.5 L316.4 672.6 L316.1 672.7"/>
<path d="M570.5 528.4 L666 474.6"/>
<path d="M595.5 60.8 L609.3 54.3 L673 90.5"/>
<path d="M595.5 60.8 L667.1 101.6"/>
<path d="M595.5 60.8 L595.5 85.4 L593.1 90.4 L593.1 100.2 L595.5 104.1 L593.1 109.1 L593.1 117.9 L595.5 121.9 L595.1 124.8 L592.1 126.8"/>
<path d="M592.5 120.3 L523.6 127.4 L513.8 133.7 L589.6 126.4 L595.1 124.4"/>
<path d="M513.8 133.7 L513.8 196.7 L517.7 201"/>
<path d="M602.4 79.5 C603.3 79 606.4 77.2 608.3 76.6 C610.2 76 612.3 75 613.8 76 C615.3 77 616.5 80.2 617.1 82.5 C617.8 84.7 618.2 87.2 617.7 89.4 C617.2 91.6 614.2 93.5 614.2 95.7 C614.2 97.8 617.1 100.1 617.7 102.2 C618.4 104.2 618.7 106.3 618.1 108.1 C617.5 109.8 615.7 111.2 614.2 112.6 C612.6 114 609.7 115.9 608.9 116.5"/>
<path d="M613.8 76 L635.8 87.8"/>
<path d="M608.9 116.5 C608.9 117.7 608.4 121.5 609.3 123.8 C610.1 126.2 612.7 128.4 614.2 130.7 C615.6 133 617.8 135.2 618.1 137.6 C618.4 140 618.1 143.1 616.1 144.9 C614.2 146.7 608.6 147.7 606.3 148.4 C604 149.2 603 149.2 602.4 149.4"/>
<path d="M602.4 149.4 C601.5 148.9 598.8 148.1 597.4 146.5 C596.1 144.8 595.6 141 594.5 139.6 C593.3 138.1 591.9 137.4 590.6 137.6 C589.2 137.8 588.1 140.4 586.6 140.6 C585.1 140.7 582.9 139.6 581.7 138.6 C580.5 137.6 579.7 135.3 579.3 134.6"/>
<path d="M579.3 134.6 L566.9 135 L558.1 136.6 L557.1 140.9"/>
<path d="M600.4 117.9 L599.4 132.7 L602.4 138.6" stroke-width="1.6"/>
<path d="M606.3 88.4 L607.3 92.3" stroke-width="1.6"/>
<path d="M613.2 76.6 L614.2 79.5" stroke-width="1.6"/>
<path d="M612.2 96.3 L614.2 99.2" stroke-width="1.6"/>
<path d="M602.8 79.9 C603.1 80.8 604 83.4 604.7 85.4 C605.5 87.5 606.8 90.3 607.3 92.3 C607.8 94.4 607.6 96.8 607.7 97.6" stroke-width="1.3"/>
<path d="M607.7 97.6 L614.2 95.7"/>
<path d="M607.7 97.6 C607.2 98.6 604.8 101.2 604.7 103.1 C604.7 105.1 606.6 106.9 607.3 109.1 C607.9 111.3 608.4 115.1 608.7 116.3"/>
<path d="M608.7 116.3 L614.2 113"/>
<path d="M608.7 116.3 L600.8 118.3"/>
<ellipse cx="601" cy="71.1" rx="2.2" ry="3.3" transform="rotate(-25 601 71.1)"/>
<ellipse cx="601" cy="90.7" rx="2.2" ry="3.3" transform="rotate(-25 601 90.7)"/>
<ellipse cx="601" cy="109.6" rx="2.2" ry="3.3" transform="rotate(-25 601 109.6)"/>
<ellipse cx="601" cy="141.5" rx="2.2" ry="3.3" transform="rotate(-25 601 141.5)"/>
<ellipse cx="583.7" cy="135" rx="2.2" ry="3.3" transform="rotate(-25 583.7 135)"/>
<ellipse cx="555.7" cy="144.5" rx="2.2" ry="3.3" transform="rotate(-25 555.7 144.5)"/>
<ellipse cx="519.1" cy="144.1" rx="2.2" ry="3.3" transform="rotate(-25 519.1 144.1)"/>
<ellipse cx="519.1" cy="186.4" rx="2.2" ry="3.3" transform="rotate(-25 519.1 186.4)"/>
<ellipse cx="644.7" cy="97.2" rx="2.2" ry="3.3" transform="rotate(-25 644.7 97.2)"/>
<path d="M523.6 139.6 L533.5 138.2 L533.9 142.5" stroke-width="1.4"/>
<path d="M523.6 139.6 C523.6 140.4 522.7 143.3 523.2 144.5 C523.7 145.6 525 146.5 526.6 146.5 C528.1 146.5 530.3 145.1 532.5 144.5 C534.6 143.8 537.1 142.5 539.4 142.5 C541.7 142.5 544.8 143.5 546.3 144.5 C547.7 145.5 547.9 147.8 548.2 148.4"/>
<path d="M533.9 138.2 L545.3 138.6 L549.2 142.5"/>
<path d="M548.2 148.4 C547.8 149.1 545.8 150.9 545.7 152.4 C545.5 153.8 546.3 156.1 547.2 157.3 C548.2 158.4 549.9 159.2 551.6 159.3 C553.2 159.4 555.8 158.5 557.1 157.9 C558.3 157.2 558.7 155.7 559.1 155.3"/>
<path d="M559.1 155.3 L565 151.4 L568.9 146.5 L568.9 141.5 L566.9 136.6"/>
<path d="M557.1 140.9 L558.1 148.4 L555.5 152.4"/>
<ellipse cx="550.6" cy="154.3" rx="0.8" ry="1" transform="rotate(-25 550.6 154.3)"/>
<path d="M518.7 151.4 L523.6 150.4 L528.5 147.4"/>
<path d="M518.7 151.4 L518.1 178"/>
<path d="M523.6 150.4 L523.2 160.2"/>
<path d="M523.6 187.8 C524.3 188.2 526.1 190.2 527.6 190.2 C529 190.2 531.4 189.2 532.5 187.8 C533.5 186.4 533.6 182.9 533.9 181.9"/>
<path d="M521.7 193.7 L523.6 190.2"/>
<path d="M521.7 193.7 C521.8 194.7 521.7 197.6 522.6 199.6 C523.6 201.6 525.8 203.8 527.6 205.5 C529.4 207.3 532.5 209.3 533.5 210"/>
<path d="M534.4 149.4 C533.6 151.2 530.3 156.1 529.5 160.2 C528.8 164.3 528.8 169.8 529.9 174 C531.1 178.3 533.5 182.4 536.4 185.8 C539.3 189.3 543.8 193 547.2 194.7 C550.7 196.4 554.3 196.7 557.1 196.1 C559.9 195.4 562.3 193.4 564 190.7 C565.6 188.1 566.9 183.7 566.9 179.9 C566.9 176.1 565.3 171.6 564 168.1 C562.7 164.7 559.9 160.7 559.1 159.3"/>
<path d="M531.5 152.4 C530.8 154.3 527.9 160.2 527.6 164.2 C527.2 168.1 528.4 172.7 529.5 176 C530.7 179.3 533.6 182.5 534.4 183.9" stroke-width="1.5"/>
<path d="M533.9 151.4 C533.6 153.5 532.2 160.1 532.5 164.2 C532.7 168.3 533.8 172.4 535.4 176 C537.1 179.6 539.9 183.2 542.3 185.8 C544.8 188.5 547.6 190.3 550.2 191.7 C552.8 193.2 556.8 194.2 558.1 194.7"/>
<path d="M534.4 183.9 L540.4 200.6 L549.2 209.4"/>
<ellipse cx="601.4" cy="175" rx="2.4" ry="3.5" transform="rotate(-25 601.4 175)" stroke-width="1.4"/>
<path d="M598.4 165.2 C597.8 166 595.4 167.9 594.9 170.1 C594.4 172.2 594.7 175.7 595.5 178 C596.2 180.2 597.8 182.6 599.4 183.9 C601 185.1 603.5 185.9 605.3 185.4 C607.1 184.9 609.4 183 610.2 180.9 C611.1 178.8 611.1 175.4 610.6 173 C610.1 170.6 608.8 168.1 607.3 166.5 C605.7 165 602.9 164 601.4 163.8 C599.9 163.5 598.9 164.9 598.4 165.2"/>
<path d="M599.4 183.9 C598.9 185.2 596.9 188.8 596.5 191.7 C596 194.7 596 198.5 596.5 201.6 C596.9 204.6 598.9 208.6 599.4 210"/>
<path d="M607.3 184.8 C608.8 186 613.5 189.1 616.1 191.7 C618.8 194.4 621.4 197.5 623 200.6 C624.7 203.6 625.5 208.5 626 210"/>
<path d="M583.7 210 C584.2 209.3 585.1 206.7 586.6 205.5 C588.1 204.4 590.6 203.3 592.5 203.1 C594.5 203 597.4 204.3 598.4 204.5"/>
<path d="M598.4 204.5 L610.2 202.6"/>
<path d="M601.4 185.8 L598.4 195.7 L602.4 207.5"/>
<path d="M637.8 83.5 L635.8 88.4 L640.7 92.3 L640.4 99.2 L644.7 103.1 L649.6 101.2"/>
<path d="M647.3 105.5 Q647.3 99.5 652.8 102 L717.5 131 Q723 133.5 723 139.5 L723 190.5 Q723 196.5 717.7 193.6 L652.6 157.9 Q647.3 155 647.3 149 Z"/>
<path d="M651.5 109.5 Q651.5 105.5 655.1 107.2 L715.9 134.8 Q719.5 136.5 719.5 140.5 L719.5 186 Q719.5 190 716 188.1 L655 154.4 Q651.5 152.5 651.5 148.5 Z"/>
<path d="M673 90.5 L684.1 86.1 L725.4 108.9 L746.8 134 L748.3 137.7 L769.5 150"/>
<path d="M667.1 101.6 L668.6 95.7 L673 91.5"/>
<path d="M673 91.5 L714.4 114.9 L722.5 112.2"/>
<path d="M714.4 114.9 L727.7 133.3 L739.5 145.8 L749.1 140.4"/>
<path d="M739.5 145.8 L765 160.2"/>
<path d="M669.4 106.7 L676.7 112.6" stroke-width="1.6"/>
<path d="M680.4 104.5 L679.7 113.7 L686.3 122.2 L692.2 121.5 L693.7 113.7 L689.3 106.7 Z"/>
<ellipse cx="686.8" cy="113.1" rx="2.7" ry="4" transform="rotate(-20 686.8 113.1)"/>
<ellipse cx="674.5" cy="100.1" rx="1.6" ry="2.8" transform="rotate(-20 674.5 100.1)" stroke-width="1.5"/>
<ellipse cx="712.2" cy="122.2" rx="2.1" ry="3.1" transform="rotate(-20 712.2 122.2)"/>
<path d="M714.4 139.9 L713.3 150.3 L720.3 156.9 L726.2 154.7 L726.9 145.8 L721.8 139.2 Z" stroke-width="1.3"/>
<ellipse cx="718.8" cy="148.1" rx="3" ry="4.3" transform="rotate(-20 718.8 148.1)"/>
<ellipse cx="739.5" cy="157.4" rx="2.7" ry="3.5" transform="rotate(-20 739.5 157.4)"/>
<path d="M735.8 153.2 C735.7 154.2 734.7 157.5 735.3 159.1 C735.9 160.7 738 162.6 739.5 162.8 C740.9 163.1 742.9 161.8 743.9 160.6 C744.9 159.4 745.1 156.3 745.4 155.4"/>
<path d="M696.7 112.6 L695.9 117.8"/>
<path d="M695.9 114.6 L704 117.8 L708.5 121.1"/>
<path d="M715.1 125.2 L719.5 131.1 L727.7 134"/>
<path d="M681.9 99.5 L709.9 115.4 L714.4 118.8"/>
<path d="M726.9 147.3 L733.6 147 L735 151.8 L729.9 152.5 L727.7 151.5"/>
<path d="M745.4 155.4 L751.3 156.2 L765 163.6"/>
<path d="M745.4 160.6 L751.3 158.4"/>
<path d="M723.2 157.7 L723.2 175.1" stroke-width="1.6"/>
<path d="M735 163.6 L733.6 175.1"/>
<path d="M734.7 160.2 C734.5 162.2 733.7 167.8 733.7 172 C733.7 176.3 734 181.9 734.7 185.8 C735.3 189.8 738.1 192.9 737.6 195.7 C737.2 198.5 733.2 200.2 731.7 202.6 C730.3 205 729.3 208.8 728.8 210"/>
<path d="M673.7 210 C673.8 209 673.7 205.2 674.7 203.5 C675.6 201.9 677.6 200.3 679.6 200 C681.5 199.7 684 200.3 686.5 201.6 C688.9 202.8 693 206.5 694.3 207.5"/>
<path d="M512.4 195 C513.6 196.2 517.1 199.9 519.8 202.4 C522.5 204.8 526.2 207.7 528.6 209.8 C531.1 211.9 532.9 213.2 534.5 214.9 C536.1 216.6 537.4 218 538.2 220.1 C539 222.2 539.1 226.2 539.2 227.5"/>
<path d="M539.2 227.5 L539.2 295.1"/>
<path d="M521.2 195 C522.2 196.4 524.7 200.3 527.1 203.1 C529.6 205.9 533.7 209.6 536 212 C538.3 214.3 540.3 216.3 541.2 217.1"/>
<path d="M535.3 195 C537.3 197.1 542.8 203.1 547.8 207.5 C552.8 212 559.4 216.5 565.5 221.6 C571.7 226.6 579.8 233.6 584.7 237.8 C589.6 242 592.6 244 595 246.7 C597.5 249.4 598.7 252.1 599.5 254 C600.2 256 600 257.1 599.5 258.5 C599 259.8 598.1 261.3 596.5 262.2 C594.9 263 591 263.4 589.9 263.6"/>
<path d="M540.4 215.7 C542.6 217.5 548.5 222.6 553.7 226.7 C558.9 230.9 566.5 236.6 571.4 240.8 C576.3 244.9 580.6 248.9 583.2 251.8 C585.8 254.8 586.3 257.4 586.9 258.5"/>
<ellipse cx="544.6" cy="225" rx="1.8" ry="3.2" transform="rotate(-20 544.6 225)"/>
<ellipse cx="544.6" cy="259.6" rx="1.8" ry="3.2" transform="rotate(-20 544.6 259.6)"/>
<ellipse cx="576.9" cy="252.6" rx="2.5" ry="4" transform="rotate(-20 576.9 252.6)"/>
<ellipse cx="585.4" cy="259.5" rx="1.6" ry="2.2" transform="rotate(-20 585.4 259.5)" stroke-width="1.6"/>
<ellipse cx="579.5" cy="272.5" rx="2.8" ry="4" transform="rotate(-20 579.5 272.5)" stroke-width="1.3"/>
<path d="M578.8 263.2 C577.2 263.9 574.4 265.3 573.6 267.3 C572.9 269.4 573.3 273.2 574.4 275.4 C575.5 277.7 578.3 280.2 580.3 280.9 C582.2 281.6 584.7 281 586.2 279.9 C587.7 278.7 589.2 276.1 589.4 274 C589.7 271.9 588.7 269.1 587.7 267.3 C586.6 265.5 584.7 263.9 583.2 263.2 C581.8 262.5 580.4 262.5 578.8 263.2 Z"/>
<ellipse cx="591.3" cy="214.2" rx="2.5" ry="3.7" transform="rotate(-20 591.3 214.2)" stroke-width="1.3"/>
<path d="M587.7 204.2 C585.7 204.9 583.6 207.3 583.2 209.8 C582.9 212.2 584 216.3 585.4 218.6 C586.9 221 590 223.3 592.1 223.8 C594.2 224.3 596.9 223.4 598 221.6 C599.1 219.7 599.2 215.4 598.7 212.7 C598.2 210 596.9 206.8 595 205.3 C593.2 203.9 589.6 203.4 587.7 204.2 Z"/>
<path d="M544.9 232.6 L544.9 253.3 L549.3 254 L568.5 251.8 L570.7 246.7 L550.8 230.1 Z"/>
<path d="M553.7 236.3 C553.8 237.7 553.7 242.5 554.4 244.4 C555.2 246.4 555.8 247.8 558.1 248.1 C560.5 248.5 566.7 246.9 568.5 246.7"/>
<path d="M559.6 251.8 L568.5 251.1" stroke-width="1.8"/>
<path d="M544.9 265.8 L544.9 295.1"/>
<path d="M553 264.4 L553 295.1"/>
<path d="M544.9 266.9 L550.8 266.1" stroke-width="1.8"/>
<path d="M559.6 257 L550.8 258.8 L550 264.4"/>
<path d="M578.1 283.6 L578.8 295.1" stroke-width="1.8"/>
<path d="M606.8 251.8 C608 250.6 611 246.2 614.2 244.3 C617.4 242.4 622.7 240.9 626 240.4 C629.3 239.9 630.9 240.4 633.9 241.1 C636.9 241.8 640.8 243 644.2 244.8 C647.6 246.7 651 249.1 654.5 252.2 C658 255.3 661.7 259.4 664.9 263.2 C668.1 267 671.1 271.4 673.7 275 C676.3 278.6 678.6 282.4 680.4 285.1 C682.2 287.8 683.8 290 684.5 291"/>
<path d="M606.8 251.8 C606.2 253.9 604.1 260.1 603.2 264.4 C602.2 268.7 602 274.5 600.9 277.7 C599.8 280.8 598.1 282.6 596.5 283.1 C594.9 283.7 592.2 281.3 591.3 280.9"/>
<path d="M608.3 251.8 C607.8 253.9 606.2 260.1 605.4 264.4 C604.5 268.7 603.5 275.4 603.2 277.7"/>
<path d="M596.5 195 C597 197 597.5 203.1 599.5 206.8 C601.4 210.5 605.4 214.8 608.3 217.1 C611.3 219.5 614.4 220.6 617.2 220.8 C620 221.1 623.7 219 625 218.6"/>
<path d="M599.5 195 C599.8 196.5 600.4 201.2 601.7 203.9 C602.9 206.6 606 210 606.8 211.2"/>
<path d="M464.7 287 L587.7 217.1"/>
<path d="M601 209.8 L609.8 204.6"/>
<path d="M412.7 378.8 L688.5 220.4"/>
<path d="M666 474.6 L478 363 L545 326"/>
<path d="M581.8 303 L590.6 298.6"/>
<path d="M539.2 275 C539.2 279.7 538.9 297.4 539.2 303 C539.6 308.7 540.2 305.5 541.2 308.9 C542.1 312.4 543.5 319.4 544.9 323.7 C546.2 328 548.5 332.9 549.3 334.8"/>
<path d="M549.3 334.8 L567 344.1 L576.6 339.2 L584.7 343.2 L591.3 344.1 L593.6 342.9"/>
<path d="M544.6 275 L544.6 300.1"/>
<path d="M553 275 L553 292.7"/>
<path d="M591.3 315.6 L591.3 343.9" stroke-width="1.5"/>
<path d="M593.6 314.1 L593.6 343.2"/>
<path d="M583.2 305.3 L593.6 314.1"/>
<path d="M581.8 306.7 L591.3 315.6"/>
<path d="M578.4 285.3 L578.8 297.1 L581 304.5" stroke-width="1.8"/>
<ellipse cx="570.7" cy="303.8" rx="3" ry="4.4" transform="rotate(-20 570.7 303.8)" stroke-width="1.3"/>
<path d="M568.5 294.9 C566.7 295.5 564.5 297.9 564 300.1 C563.5 302.3 564.3 306.1 565.5 308.2 C566.7 310.3 569.6 312.4 571.4 312.6 C573.3 312.9 575.6 311.4 576.6 309.7 C577.6 308 578 304.5 577.6 302.3 C577.3 300.1 575.9 297.6 574.4 296.4 C572.8 295.2 570.2 294.3 568.5 294.9 Z"/>
<path d="M564.8 297.1 C564.5 298.4 562.7 301.9 563.3 304.5 C563.9 307.1 566.1 310.9 568.5 312.6 C570.8 314.4 575.1 315.2 577.3 314.9 C579.5 314.5 581 311.2 581.8 310.4"/>
<ellipse cx="544.1" cy="305.3" rx="1.6" ry="3" transform="rotate(-20 544.1 305.3)"/>
<ellipse cx="561.1" cy="332.6" rx="3" ry="4.4" transform="rotate(-20 561.1 332.6)"/>
<path d="M558.1 325.9 C559 326.3 561.9 326.8 563.3 328.1 C564.7 329.5 565.8 333.1 566.3 334"/>
<path d="M544.6 300.1 L553.7 292.7 L558.1 295.7 L558.9 303 L555.9 306.7 L549.3 310.4 L547.8 314.9 L549.3 319.3 L552.2 322.2 L561.1 317.8 L575.8 312.6"/>
<path d="M544.9 323.7 L552.2 322.2"/>
<path d="M556.7 306.7 L558.1 314.9"/>
<path d="M547.8 312.6 L548.5 317.1" stroke-width="1.8"/>
<path d="M561.1 317.1 L569.9 319.3 L576.6 328.1 L576.6 339.2"/>
<path d="M567 333.3 L574.4 330.4"/>
<path d="M567 333.3 L567 344.1"/>
<path d="M561.8 323.7 L567.7 322.2"/>
<path d="M545.6 295.7 L550 294.9" stroke-width="1.8"/>
<path d="M676.7 200.5 C678.1 200.5 682.6 199.4 685.5 200.5 C688.5 201.6 692.2 205.2 694.4 207.1 C696.6 209.1 698.1 211.4 698.8 212.3"/>
<path d="M676.7 200.5 C676.3 201.6 675 204.6 674.7 207.1 C674.4 209.7 674.4 213.2 674.9 216 C675.3 218.8 675.9 221.4 677.4 224.1 C678.9 226.8 681.7 230.1 684 232.2 C686.4 234.3 689.2 235.7 691.4 236.7 C693.6 237.6 696.3 237.9 697.3 238.1"/>
<path d="M677.8 202.4 C677.6 204.4 676.4 211.2 676.7 214.5 C676.9 217.9 677.4 219.8 679.2 222.6 C680.9 225.5 684.2 229.3 687 231.5 C689.8 233.7 694.4 235.2 695.8 235.9"/>
<ellipse cx="706.2" cy="221.9" rx="2.1" ry="4" transform="rotate(-20 706.2 221.9)"/>
<path d="M705.4 212.3 C703.5 212.3 701.1 214.6 700.3 216.7 C699.4 218.8 699.5 222.4 700.3 224.9 C701 227.3 703 230.3 704.7 231.5 C706.4 232.7 709.1 233.1 710.6 232.2 C712.1 231.4 713.3 228.9 713.6 226.3 C713.8 223.7 713.4 219.1 712.1 216.7 C710.7 214.4 707.4 212.3 705.4 212.3 Z"/>
<path d="M709.9 211.9 C710.9 213 714.7 216.5 715.8 218.9 C716.9 221.4 716.9 224.3 716.5 226.3 C716.1 228.3 714.1 230.3 713.6 231.1"/>
<path d="M702.5 232.2 L698.8 238.1"/>
<ellipse cx="697.3" cy="249.9" rx="2.5" ry="3.5" transform="rotate(-20 697.3 249.9)"/>
<path d="M695.8 239.9 C694.2 240.5 691.5 242 690.7 244 C689.8 246.1 689.8 249.7 690.7 252.2 C691.5 254.6 693.9 257.6 695.8 258.8 C697.8 260 700.8 260.4 702.5 259.5 C704.2 258.7 705.8 256.1 706.2 253.6 C706.5 251.2 705.7 247 704.7 244.8 C703.7 242.6 701.8 241.2 700.3 240.4 C698.8 239.5 697.4 239.3 695.8 239.9 Z"/>
<path d="M701.8 239.3 C702.6 240.5 705.9 243.9 706.9 246.3 C707.9 248.6 708 251.5 707.7 253.6 C707.3 255.7 705.2 257.9 704.7 258.8"/>
<path d="M695.8 248.5 C696.3 248.6 698.4 248.6 698.8 249.2 C699.2 249.8 698.2 251.7 698.1 252.2"/>
<path d="M715 202.7 C715.3 203.8 714.3 206.2 716.5 209.4 C718.7 212.6 725.1 218.6 728.3 221.9 C731.5 225.2 732.9 226.7 735.7 229.3 C738.5 231.9 743.5 236 745 237.4"/>
<path d="M735.7 229.3 C734.8 230 731.5 232 730.5 233.7 C729.6 235.4 729.6 238.1 730.1 239.6 C730.6 241.1 732.1 242.2 733.5 242.9 C734.9 243.5 736.7 243.4 738.7 243.3 C740.6 243.3 743.9 242.7 745 242.6"/>
<path d="M731.3 244 C730.6 244.8 728.3 246 727.1 248.5 C726 250.9 724.4 255.6 724.2 258.8 C723.9 262 724.5 264 725.7 267.7 C726.8 271.3 729.4 278 731.3 280.9 C733.2 283.8 736.2 284.4 737.2 285.1" stroke-width="1.4"/>
<path d="M728.3 243.3 C727.7 244.4 725.6 247.1 724.6 249.9 C723.6 252.8 722.8 258.6 722.4 260.3"/>
<path d="M729.1 247 C728.7 249 727 255.4 726.8 258.8 C726.7 262.2 727.2 264.2 728.3 267.7 C729.4 271.1 731.8 276.6 733.5 279.5 C735.2 282.4 737.8 284.1 738.7 285.1"/>
<path d="M723.2 265.4 C722.2 266.2 718.6 268.3 717.3 269.9 C715.9 271.5 715.2 273.4 715.3 275 C715.5 276.6 716.7 278.5 718 279.5 C719.3 280.4 721.4 280.9 723.2 280.9 C724.9 280.9 727.5 279.7 728.3 279.5"/>
<path d="M689.9 283.9 L697.3 279.5 L701.8 283.2 L716.5 279.5"/>
<path d="M769.5 150 L806.3 170.2 L806.3 249.9"/>
<path d="M745.9 150 L794.5 177.8 L806.3 170.2"/>
<path d="M794.5 177.8 L794.5 249.9"/>
<path d="M751.4 156.9 L787.6 177.8"/>
<ellipse cx="804" cy="185.9" rx="1.8" ry="3.1" transform="rotate(-20 804 185.9)"/>
<path d="M795.9 184.1 L806.3 179.9"/>
<path d="M795.9 195.2 L800.1 192.4 L806.3 190.3"/>
<path d="M750.7 175.7 C752.6 174.2 756.6 173.8 759.8 174.5 C762.9 175.2 766.7 177.2 769.5 179.9 C772.3 182.5 774.6 186.7 776.4 190.3 C778.3 193.9 780.1 197.9 780.6 201.4 C781.1 204.9 780.7 208.8 779.5 211.2 C778.3 213.5 775.8 214.7 773.7 215.3 C771.5 215.9 769.3 216 766.7 214.6 C764.2 213.2 760.9 210.3 758.4 207 C755.9 203.6 753.3 198.4 751.7 194.5 C750.1 190.5 748.8 186.5 748.6 183.4 C748.5 180.2 748.9 177.2 750.7 175.7 Z"/>
<path d="M752.4 177.8 C752.3 179.2 751.2 182.9 751.7 186.1 C752.2 189.4 753.8 193.5 755.6 197.3 C757.4 201 760.2 205.6 762.5 208.4 C764.9 211.2 768.3 213 769.5 213.9"/>
<path d="M766.7 215 L774.4 215.3" stroke-width="1.8"/>
<ellipse cx="782" cy="189.6" rx="2.2" ry="3.3" transform="rotate(-20 782 189.6)" stroke-width="1.4"/>
<path d="M775.7 184.1 L786.9 179.2 L790.3 182.7 L790.1 190.3 L783.4 197.3 L778.1 194.8 Z"/>
<path d="M790.3 182 L790.3 190.6" stroke-width="1.8"/>
<path d="M790.3 201.4 L790.3 236.2" stroke-width="1.8"/>
<path d="M783.4 197.3 L789 199.3 L790.3 202.8"/>
<ellipse cx="782" cy="239" rx="1.9" ry="2.9" transform="rotate(-20 782 239)" stroke-width="1.4"/>
<path d="M770.9 236.2 L789 227.1"/>
<path d="M770.9 236.2 L770.2 243.1 L775.1 248 L783.4 245.9 L789 239 L790.1 236.2"/>
<path d="M768.1 229.2 L772.3 234.8" stroke-width="1.8"/>
<ellipse cx="754.9" cy="217.4" rx="3.3" ry="5.6" transform="rotate(-15 754.9 217.4)" stroke-width="1.3"/>
<ellipse cx="718.8" cy="194.5" rx="2.6" ry="3.9" transform="rotate(-20 718.8 194.5)"/>
<path d="M713.9 186.1 L713.2 195.9 L718.1 203.5 L724.3 202.1 L726.4 193.1 L720.8 185.4 Z" stroke-width="1.3"/>
<path d="M723.6 158.3 C723.7 161.1 724.8 171.3 724.3 175 C723.9 178.7 722.1 179.1 720.8 180.6 C719.6 182.1 717.4 183.5 716.7 184.1"/>
<path d="M723.9 162.5 L724.3 175.7" stroke-width="1.8"/>
<path d="M736.8 195.9 C735.7 197.1 731 201.4 729.9 203.5 C728.7 205.6 728.8 206.8 729.9 208.4 C730.9 210 734.2 212.8 736.1 213.2 C738.1 213.7 740.3 212 741.7 211.2 C743.1 210.3 744.7 210.3 744.5 208.4 C744.2 206.4 741.6 201.3 740.3 199.3 C739 197.4 737.4 197 736.8 196.6"/>
<ellipse cx="739.6" cy="157.2" rx="2.4" ry="3.3" transform="rotate(-20 739.6 157.2)"/>
<path d="M735.4 154.2 L736.1 160 L741.7 163.2 L745.9 160.4 L745.9 155.6"/>
<path d="M745.9 155.6 L751.4 156.9"/>
<path d="M715.3 202.8 L716 209.8 L734.7 227.8 L745.9 239 L755.6 249.9"/>
<path d="M736.1 213.2 L748.6 222.3 L761.2 229.2 L766.7 233.4 L770.9 236.9"/>
<path d="M744.5 208.4 L747.9 213.2"/>
<path d="M734.7 229.2 C733.9 229.9 730.7 231.8 729.9 233.4 C729.1 235 729.1 237.4 729.9 239 C730.7 240.5 732.8 242 734.7 242.4 C736.7 242.9 740.1 242.3 741.7 241.7 C743.3 241.2 744 239.4 744.5 239"/>
<path d="M761.2 232 C760.7 232.7 758.4 234.5 758.4 236.2 C758.4 237.8 759.5 240.3 761.2 241.7 C762.8 243.1 766.2 243.1 768.1 244.5 C770 245.9 771.6 249 772.3 249.9"/>
<path d="M713.9 186.1 L720.8 185.4" stroke-width="1.8"/>
<path d="M794.5 240 L794.5 356.3"/>
<path d="M806.3 240 L806.3 349.8"/>
<path d="M790.3 248.3 L790.3 260.8" stroke-width="1.6"/>
<path d="M790.3 291.4 L790.3 305.3" stroke-width="1.6"/>
<path d="M790.3 323.4 L790.3 339.9" stroke-width="1.6"/>
<path d="M790.3 260.8 C789.6 261.3 787.1 262.5 786.2 263.6 C785.2 264.8 784.8 266.2 784.8 267.8 C784.8 269.4 786.6 271.9 786.2 273.4 C785.8 274.8 783 275 782.3 276.4 C781.6 277.8 781.4 279.9 782 281.7 C782.6 283.5 784.8 285.6 786.2 287.3 C787.6 288.9 789.6 290.7 790.3 291.4"/>
<ellipse cx="789" cy="268.5" rx="2.2" ry="3.5" transform="rotate(-20 789 268.5)"/>
<ellipse cx="786.2" cy="281.7" rx="0.8" ry="1.9" transform="rotate(-20 786.2 281.7)" stroke-width="1.6"/>
<ellipse cx="789" cy="317.8" rx="2.2" ry="3.8" transform="rotate(-20 789 317.8)"/>
<path d="M790.3 305.3 C789.5 306 786.4 307.4 785.5 309.5 C784.5 311.6 784.2 315.5 784.5 317.8 C784.9 320.1 786.6 322.1 787.6 323.4 C788.5 324.7 789.9 325.1 790.3 325.5"/>
<ellipse cx="803.5" cy="251.1" rx="1.5" ry="2.8" transform="rotate(-20 803.5 251.1)"/>
<path d="M795.9 249.7 L806.3 246.3"/>
<path d="M795.9 260.2 L806.3 255.3"/>
<path d="M806.3 283.8 C805.6 283.9 802.8 283.7 801.7 284.5 C800.7 285.3 799.9 287.4 800.1 288.6 C800.3 289.9 801.8 291.7 802.8 292.1 C803.9 292.6 805.7 291.5 806.3 291.4"/>
<path d="M795.9 295.6 L806.3 293.5" stroke-width="1.6"/>
<path d="M795.9 297 L802.2 295.6 L806.3 308.1 L806.3 312.3 L797.3 314.4 L795.9 313"/>
<path d="M731.3 242.8 C730.5 243.4 727.6 244.4 726.4 246.3 C725.2 248.1 724.4 250.8 724.3 253.9 C724.2 257 724.8 261.3 725.7 265 C726.6 268.7 728 272.7 729.9 276.1 C731.7 279.6 734.2 283 736.8 285.9 C739.5 288.8 742.7 291.4 745.9 293.5 C749 295.6 753 297.3 755.6 298.4 C758.1 299.4 760.2 299.5 761.2 299.8"/>
<path d="M732.7 244.9 C732 245.4 729.3 246.4 728.5 248.3 C727.7 250.3 727.6 253.4 727.8 256.7 C728 259.9 728.7 264.1 729.9 267.8 C731 271.5 732.8 275.6 734.7 278.9 C736.7 282.3 738.9 285.2 741.7 287.9 C744.5 290.7 748.4 293.7 751.4 295.6 C754.4 297.4 758.4 298.5 759.8 299.1"/>
<path d="M731.3 242.8 C733 242.8 738.6 242 741.7 242.8 C744.8 243.6 747.3 245.6 750 247.6 C752.8 249.7 756.5 253.4 758.4 255.3 C760.2 257.1 760.7 258.2 761.2 258.8"/>
<path d="M761.2 258.8 C760.9 259.8 759.3 263.2 759.8 265 C760.2 266.9 762 269.1 763.9 269.9 C765.9 270.7 770.3 269.9 771.6 269.9"/>
<path d="M772.6 269.9 L773.2 292.8" stroke-width="1.6"/>
<path d="M770.9 270.9 L771.4 291.4"/>
<path d="M773 292.8 C771 292.8 767.2 294.2 765.6 295.6 C764 297 763.1 299.3 763.2 301.2 C763.4 303 765 305.6 766.7 306.7 C768.5 307.9 771.6 308.8 773.7 308.1 C775.7 307.4 778.6 304.6 779.2 302.5 C779.8 300.5 778.2 297.2 777.1 295.6 C776.1 294 774.9 292.8 773 292.8 Z"/>
<path d="M745.9 240 L761.2 255.3 L772.3 265 L782 274.7"/>
<path d="M759.8 240 C761.4 240.7 766 242.3 769.5 244.2 C773 246 778.3 248.6 780.6 251.1 C782.9 253.7 782 257.8 783.4 259.5 C784.8 261.1 788 260.6 789 260.8"/>
<path d="M724.3 265 C723.3 265.5 719.6 266.4 718.1 267.8 C716.6 269.2 715.3 271.6 715.3 273.4 C715.3 275.1 716.4 277.1 718.1 278.2 C719.7 279.4 722.9 279.8 725 280.3 C727.1 280.8 729.7 280.9 730.6 281"/>
<path d="M710.4 287.9 L729.9 281.7" stroke-width="1.4"/>
<path d="M710.4 287.9 L711.1 292.8" stroke-width="2"/>
<path d="M711.1 292.8 L720.8 302.5 L732 316.4 L740.3 326.9 L761.2 329"/>
<path d="M729.9 281.7 L735.4 286.6" stroke-width="1.4"/>
<path d="M741.7 297 C741.2 297.9 738.9 300.6 738.9 302.5 C738.9 304.5 740.5 307.4 741.7 308.8 C742.9 310.2 745.2 310.5 745.9 310.9"/>
<path d="M745.9 310.9 L755.6 308.8 L757.7 312.3 L761.2 327.6"/>
<path d="M760.5 303.2 L765.3 328.3" stroke-width="2.2"/>
<path d="M753.8 299.8 L754.2 304.6" stroke-width="1.8"/>
<path d="M752.8 299.8 L762.5 299.8"/>
<path d="M731.3 331.7 L740.3 326.9"/>
<path d="M730.6 331.7 L752.8 335.9 L758.4 339.9"/>
<path d="M765.3 328.3 L772.3 335.9 L783.4 337.3 L790.3 339.9"/>
<ellipse cx="723.6" cy="331" rx="2.1" ry="3.3" transform="rotate(-20 723.6 331)"/>
<path d="M687.2 300 C687.1 301.5 686 306.2 686.5 308.9 C687 311.6 689.2 314.3 690.2 316.2 C691.2 318.2 692 319.9 692.4 320.7"/>
<path d="M692.4 320.7 L692.4 400.1"/>
<path d="M715.3 341.3 L715.3 400.1"/>
<path d="M728.6 339.1 L728.6 400.1"/>
<ellipse cx="693.4" cy="310.3" rx="2.4" ry="3.7" transform="rotate(-20 693.4 310.3)"/>
<ellipse cx="697.6" cy="339.9" rx="2.4" ry="3.7" transform="rotate(-20 697.6 339.9)"/>
<ellipse cx="724.1" cy="331.4" rx="1.9" ry="3.2" transform="rotate(-20 724.1 331.4)"/>
<ellipse cx="756.6" cy="339.1" rx="1.9" ry="3.7" transform="rotate(-20 756.6 339.1)"/>
<path d="M715.3 341.3 L718.2 338.7 L728.6 339.1 L760 346.5"/>
<path d="M728.6 335.4 L750.7 338.7"/>
<path d="M728.6 339.6 L734.5 340.1" stroke-width="1.8"/>
<path d="M698.3 303 L704.9 305.9 L709.4 312.5 L720.4 319.9"/>
<path d="M693.9 319.2 L706.4 313.3 L709.4 312.5"/>
<path d="M706.4 313.3 L709.4 326.6 L716.8 331.7 L712.3 336.9 L710.8 338.7 L697.6 334.7 L692.4 331.7 L691.7 335.4"/>
<path d="M695.4 322.1 L700.5 329.5" stroke-width="1.8"/>
<path d="M691.7 335.4 C692 336.9 692.6 342.2 693.9 344.3 C695.1 346.4 697.2 347.5 699 348 C700.9 348.5 703.2 347.6 704.9 347.2 C706.7 346.9 708.3 345.5 709.4 345.8 C710.5 346 711.2 348.2 711.6 348.7"/>
<path d="M711.6 348.7 L711.6 373.8"/>
<path d="M711.6 366.4 C710.2 367.2 705.6 369.9 703.5 370.8 C701.4 371.8 699.9 371.1 699 372.3 C698.2 373.6 697.9 376 698.3 378.2 C698.7 380.4 700.9 383.4 701.3 385.6 C701.6 387.8 700.6 390.5 700.5 391.5"/>
<path d="M702 300 L722.7 320.7 L731.5 331.7 L753.7 331.7"/>
<path d="M743.3 300 C742.6 300.7 739.1 302.8 738.9 304.4 C738.6 306 740.1 308.5 741.8 309.6 C743.6 310.7 746.5 311.2 749.2 311.1 C751.9 310.9 756.6 309.2 758.1 308.9"/>
<path d="M698.3 303 C698.1 303.7 696.7 305.4 696.8 307.4 C696.9 309.3 698.7 313.5 699 314.8"/>
<path d="M692.4 360 L692.4 401.8 L694.6 406.1 L709.4 413.5 L708.7 427 L727.2 435.6 L738.9 430.1 L738.9 422.7 L729 404.3 L728.4 360"/>
<path d="M715.8 360 L715.8 409.8"/>
<path d="M717.4 410.4 L726.6 405.9 L729 404.3"/>
<path d="M717.4 411 C718.5 413.2 722.5 420.6 724.1 424 C725.8 427.3 726.7 430.1 727.2 431.3"/>
<path d="M727.2 431.3 L727.2 435.6"/>
<path d="M727.2 431.3 L738.9 425.8"/>
<path d="M738.9 422.7 L738.9 430.1" stroke-width="1.8"/>
<path d="M711.2 360 L711.2 373.5"/>
<path d="M711.2 365.5 C710.1 366 706.5 367.5 704.4 368.6 C702.4 369.7 699.9 370.7 698.9 372.3 C697.9 373.9 697.9 376.4 698.3 378.5 C698.7 380.5 700.5 383 701.4 384.6 C702.2 386.2 703.3 387.1 703.2 388.3 C703.1 389.5 701.4 390.3 700.8 392 C700.1 393.6 699.4 396.2 699.5 398.1 C699.6 400.1 700.1 401.9 701.4 403.7 C702.6 405.4 705.5 406.9 706.9 408.6 C708.3 410.2 709.5 412.7 710 413.5"/>
<path d="M704.4 369.2 C704.9 369.9 705.8 372.5 706.9 373.5 C708 374.6 710.5 375.1 711.2 375.4"/>
<ellipse cx="704.4" cy="380.3" rx="2.3" ry="3.9" transform="rotate(-20 704.4 380.3)" stroke-width="1.8"/>
<ellipse cx="705.7" cy="400" rx="2.2" ry="3.4" transform="rotate(-20 705.7 400)"/>
<ellipse cx="715.3" cy="422.5" rx="2.8" ry="4.1" transform="rotate(-20 715.3 422.5)" stroke-width="1.5"/>
<path d="M685 286.1 C684.9 286.6 684.2 287.5 684.4 289.4 C684.6 291.2 685.6 295.3 686.1 297.1 C686.5 299 687.2 299.2 687.2 300.5 C687.2 301.8 686.1 303 686.1 304.9 C686.1 306.7 686.3 309.5 687.2 311.5 C688.1 313.6 690.6 315.6 691.6 317.1 C692.6 318.5 693 319.8 693.3 320.4"/>
<ellipse cx="690.5" cy="294.4" rx="2.2" ry="3.8" transform="rotate(-20 690.5 294.4)"/>
<path d="M675 275 L685 286.6 L697.7 279.4 L702.1 282.7 L704.9 284.4 L717.1 279.6 L719.3 277.8 L717.6 275.6"/>
<path d="M690.5 283.9 L702 300"/>
<path d="M730.4 331.5 L737.5 328.1"/>
<path d="M728.5 339.3 L760.6 347.6 L787.2 354.8 L793.9 356.4 L806 349.8"/>
<ellipse cx="756.2" cy="338.7" rx="2.1" ry="4" transform="rotate(-20 756.2 338.7)" stroke-width="1.6"/>
<ellipse cx="789.2" cy="348.1" rx="2.2" ry="3.3" transform="rotate(-20 789.2 348.1)" stroke-width="1.4"/>
<path d="M790 339.8 L785 343.1 L782.8 346.5 L779.5 348.1 L764 343.1 L761.2 338.7"/>
<path d="M771.7 335.4 L764 339.3"/>
<path d="M752.3 333.2 L751.2 338.7 L754.6 344.8"/>
</g>
<g fill="none" stroke="#ed1c24" ><circle cx="145.7" cy="144" r="18" stroke-width="4.7"/><circle cx="400.9" cy="727" r="21.5" stroke-width="5.2"/></g>
<line x1="382.3" y1="657.8" x2="397.8" y2="720.5" stroke="#000" shape-rendering="crispEdges"/>
<rect x="333" y="781" width="1" height="1" fill="#000"/><rect x="353" y="781" width="1" height="1" fill="#000"/>
<g font-family="'Liberation Sans', sans-serif" font-weight="bold" font-size="28" fill="#00f">
<text x="235.4" y="57.8">1</text>
<text x="297.4" y="61.5">2</text>
<text x="335.5" y="40">3</text>
<text x="373" y="17.2">5</text>
<text x="137.5" y="153">4</text>
<text x="181.2" y="128">3</text>
<text x="57" y="200">6</text>
<text x="94" y="177.5">7</text>
<text x="335.4" y="296.5">25</text>
<text x="373" y="275">24</text>
<text x="243.7" y="349">15</text>
<text x="206" y="370.5">23</text>
<text x="165" y="395">18</text>
<text x="127.4" y="417">17</text>
<text x="87.9" y="440">19</text>
<text x="49" y="461.7">22</text>
<text x="0.4" y="489.6">21</text>
<text x="445.5" y="463.5">20</text>
<text x="406.5" y="487">17</text>
<text x="364" y="510">16</text>
<text x="608.5" y="609.6">12</text>
<text x="569" y="632.6">10</text>
<text x="536.5" y="657">9</text>
<text x="487.8" y="684">8</text>
<text x="427.8" y="713.8">10</text>
<text x="326.9" y="771">14</text>
<text x="277.2" y="800">13</text>
<text x="383.5" y="739.8" fill="#f00">11</text>
</g>
<g font-family="'Liberation Sans', 'Noto Sans CJK JP', sans-serif" font-weight="300" fill="#000" font-size="13">
<text transform="translate(592.4,370.3) scale(0.78,1.13)" font-size="15" letter-spacing="4.2" font-weight="400" stroke="#fff" stroke-width="0.35" paint-order="fill stroke">ギヤーケース</text>
<text x="589" y="388.6" font-family="'Liberation Mono', monospace" font-size="14.5" letter-spacing="1.4" stroke="#fff" stroke-width="0.4" paint-order="fill stroke">Gear Case</text>
</g>
</svg>
</body></html>
